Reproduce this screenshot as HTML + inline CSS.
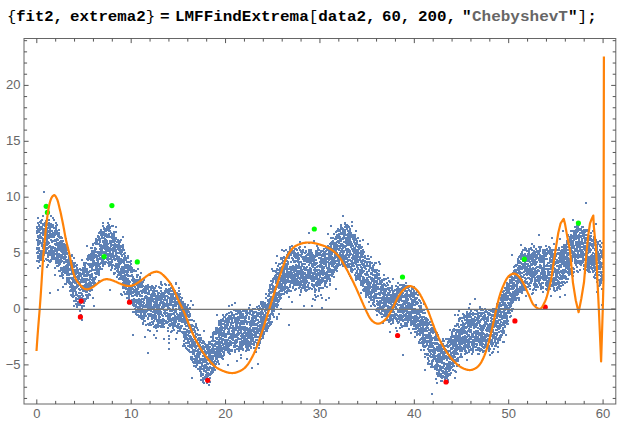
<!DOCTYPE html>
<html><head><meta charset="utf-8"><title>plot</title>
<style>
html,body{margin:0;padding:0;background:#fff;}
body{width:630px;height:426px;overflow:hidden;position:relative;font-family:"Liberation Sans",sans-serif;}
.t{position:absolute;top:9px;font-family:"Liberation Mono",monospace;font-weight:bold;font-size:14px;line-height:16px;color:#000;white-space:pre;transform-origin:0 0;}
.t.s{color:#666;}
.t i{font-style:normal;font-weight:normal;}
svg{position:absolute;left:0;top:0;}
svg text{font-family:"Liberation Sans",sans-serif;font-size:13px;fill:#666;}
</style></head><body>
<span class="t" style="left:7.05px;transform:scaleX(1.1071)"><i>{</i>fit2,</span><span class="t" style="left:69.50px;transform:scaleX(1.1262)">extrema2<i>}</i></span><span class="t" style="left:160.20px;transform:scaleX(1.1429)">=</span><span class="t" style="left:175.40px;transform:scaleX(1.1369)">LMFFindExtrema<i>[</i>data2,</span><span class="t" style="left:382.30px;transform:scaleX(1.1190)">60,</span><span class="t" style="left:417.50px;transform:scaleX(1.1310)">200,</span><span class="t" style="left:462.20px;transform:scaleX(1.1417)">&quot;</span><span class="t s" style="left:471.79px;transform:scaleX(1.1417)">ChebyshevT</span><span class="t" style="left:567.69px;transform:scaleX(1.1417)">&quot;<i>]</i>;</span>
<svg width="630" height="426" viewBox="0 0 630 426">
<path d="M36 240h2M36 227h2M36 228h2M36 253h2M36 249h2M36 231h2M36 261h2M36 228h2M36 227h2M36 233h2M36 248h2M36 248h2M37 252h2M37 245h2M37 236h2M37 241h2M37 218h2M37 229h2M37 232h2M37 223h2M37 268h2M37 253h2M37 237h2M37 258h2M37 261h2M37 256h2M37 243h2M37 240h2M37 236h2M38 244h2M38 242h2M38 256h2M38 262h2M38 250h2M38 232h2M38 250h2M38 248h2M38 261h2M38 225h2M38 258h2M38 249h2M38 226h2M38 242h2M38 257h2M38 238h2M38 231h2M39 260h2M39 242h2M39 237h2M39 228h2M39 251h2M39 235h2M39 260h2M39 254h2M39 238h2M39 237h2M39 228h2M39 241h2M39 222h2M39 236h2M39 266h2M39 235h2M39 230h2M40 253h2M40 243h2M40 256h2M40 258h2M40 260h2M40 221h2M40 254h2M40 233h2M40 251h2M40 222h2M40 237h2M40 255h2M40 221h2M40 223h2M40 227h2M40 237h2M41 252h2M41 251h2M41 229h2M41 238h2M41 258h2M41 246h2M41 220h2M41 233h2M41 244h2M41 243h2M41 254h2M41 255h2M41 227h2M41 246h2M41 256h2M41 244h2M41 228h2M42 258h2M42 248h2M42 257h2M42 251h2M42 258h2M42 231h2M42 246h2M42 216h2M42 224h2M42 251h2M42 241h2M42 235h2M42 246h2M42 239h2M42 231h2M42 225h2M42 255h2M43 224h2M43 245h2M43 230h2M43 229h2M43 254h2M43 245h2M43 242h2M43 261h2M43 232h2M43 230h2M43 240h2M43 234h2M43 252h2M43 252h2M43 246h2M43 255h2M43 192h2M44 253h2M44 238h2M44 246h2M44 247h2M44 224h2M44 248h2M44 223h2M44 245h2M44 243h2M44 223h2M44 230h2M44 239h2M44 245h2M44 226h2M44 249h2M44 223h2M45 259h2M45 213h2M45 243h2M45 221h2M45 252h2M45 227h2M45 237h2M45 231h2M45 237h2M45 225h2M45 248h2M45 251h2M45 252h2M45 248h2M45 250h2M45 231h2M45 229h2M46 267h2M46 238h2M46 240h2M46 241h2M46 238h2M46 248h2M46 224h2M46 239h2M46 235h2M46 235h2M46 249h2M46 260h2M46 245h2M46 233h2M46 228h2M46 230h2M46 253h2M47 225h2M47 231h2M47 228h2M47 244h2M47 225h2M47 256h2M47 235h2M47 265h2M47 248h2M47 255h2M47 253h2M47 242h2M47 257h2M47 236h2M47 254h2M47 232h2M47 260h2M48 247h2M48 220h2M48 237h2M48 231h2M48 251h2M48 238h2M48 254h2M48 238h2M48 261h2M48 228h2M48 223h2M48 227h2M48 247h2M48 243h2M48 251h2M48 253h2M48 236h2M49 229h2M49 247h2M49 225h2M49 228h2M49 255h2M49 231h2M49 231h2M49 253h2M49 293h2M49 237h2M49 231h2M49 262h2M49 235h2M49 233h2M49 226h2M49 246h2M50 251h2M50 235h2M50 226h2M50 227h2M50 251h2M50 260h2M50 235h2M50 252h2M50 240h2M50 224h2M50 248h2M50 251h2M50 216h2M50 235h2M50 261h2M50 250h2M50 255h2M51 237h2M51 231h2M51 247h2M51 249h2M51 235h2M51 257h2M51 251h2M51 241h2M51 242h2M51 259h2M51 254h2M51 236h2M51 248h2M51 259h2M51 234h2M51 250h2M51 253h2M52 256h2M52 259h2M52 225h2M52 251h2M52 247h2M52 236h2M52 237h2M52 256h2M52 241h2M52 218h2M52 247h2M52 233h2M52 255h2M52 234h2M52 234h2M52 227h2M52 234h2M53 248h2M53 256h2M53 241h2M53 237h2M53 254h2M53 252h2M53 237h2M53 233h2M53 228h2M53 257h2M53 255h2M53 235h2M53 237h2M53 235h2M53 220h2M53 220h2M54 233h2M54 235h2M54 248h2M54 240h2M54 258h2M54 233h2M54 231h2M54 250h2M54 250h2M54 241h2M54 244h2M54 259h2M54 234h2M54 268h2M54 275h2M54 240h2M54 233h2M55 249h2M55 230h2M55 228h2M55 251h2M55 254h2M55 229h2M55 229h2M55 260h2M55 241h2M55 233h2M55 226h2M55 263h2M55 259h2M55 223h2M55 260h2M55 261h2M55 245h2M56 249h2M56 239h2M56 261h2M56 231h2M56 258h2M56 234h2M56 266h2M56 243h2M56 262h2M56 252h2M56 256h2M56 234h2M56 250h2M56 260h2M56 225h2M56 234h2M56 232h2M57 250h2M57 254h2M57 259h2M57 262h2M57 266h2M57 250h2M57 263h2M57 263h2M57 236h2M57 248h2M57 263h2M57 240h2M57 290h2M57 246h2M57 255h2M57 245h2M57 243h2M58 246h2M58 254h2M58 263h2M58 237h2M58 263h2M58 262h2M58 265h2M58 230h2M58 235h2M58 257h2M58 233h2M58 261h2M58 250h2M58 248h2M58 235h2M58 271h2M59 271h2M59 248h2M59 271h2M59 260h2M59 249h2M59 242h2M59 245h2M59 238h2M59 238h2M59 243h2M59 237h2M59 244h2M59 242h2M59 256h2M59 264h2M59 245h2M59 276h2M60 262h2M60 251h2M60 260h2M60 237h2M60 268h2M60 251h2M60 270h2M60 258h2M60 255h2M60 242h2M60 257h2M60 241h2M60 242h2M60 247h2M60 242h2M60 256h2M60 260h2M61 250h2M61 244h2M61 257h2M61 252h2M61 268h2M61 250h2M61 243h2M61 276h2M61 246h2M61 275h2M61 238h2M61 255h2M61 261h2M61 248h2M61 251h2M61 251h2M61 273h2M62 252h2M62 257h2M62 241h2M62 278h2M62 258h2M62 253h2M62 253h2M62 271h2M62 287h2M62 269h2M62 269h2M62 275h2M62 272h2M62 257h2M62 247h2M62 248h2M63 259h2M63 244h2M63 254h2M63 252h2M63 250h2M63 252h2M63 269h2M63 262h2M63 257h2M63 262h2M63 251h2M63 263h2M63 262h2M63 249h2M63 257h2M63 267h2M63 246h2M64 267h2M64 248h2M64 250h2M64 259h2M64 254h2M64 250h2M64 269h2M64 247h2M64 256h2M64 257h2M64 257h2M64 284h2M64 256h2M64 267h2M64 273h2M64 272h2M64 270h2M65 257h2M65 239h2M65 248h2M65 268h2M65 267h2M65 260h2M65 246h2M65 245h2M65 273h2M65 272h2M65 262h2M65 266h2M65 252h2M65 284h2M65 250h2M65 272h2M65 270h2M66 280h2M66 270h2M66 250h2M66 250h2M66 265h2M66 254h2M66 273h2M66 278h2M66 265h2M66 275h2M66 270h2M66 253h2M66 254h2M66 282h2M66 260h2M66 254h2M67 253h2M67 282h2M67 263h2M67 278h2M67 264h2M67 274h2M67 261h2M67 279h2M67 268h2M67 270h2M67 260h2M67 282h2M67 248h2M67 272h2M67 282h2M67 281h2M67 266h2M68 269h2M68 260h2M68 260h2M68 283h2M68 283h2M68 280h2M68 257h2M68 278h2M68 258h2M68 263h2M68 265h2M68 262h2M68 256h2M68 274h2M68 278h2M68 275h2M68 270h2M69 284h2M69 278h2M69 263h2M69 269h2M69 283h2M69 282h2M69 282h2M69 256h2M69 291h2M69 283h2M69 287h2M69 274h2M69 265h2M69 260h2M69 284h2M69 282h2M69 264h2M70 290h2M70 267h2M70 278h2M70 283h2M70 262h2M70 291h2M70 265h2M70 266h2M70 269h2M70 295h2M70 264h2M70 270h2M70 265h2M70 286h2M70 256h2M70 262h2M70 291h2M71 284h2M71 288h2M71 278h2M71 265h2M71 255h2M71 265h2M71 272h2M71 261h2M71 274h2M71 256h2M71 274h2M71 284h2M71 279h2M71 296h2M71 274h2M71 267h2M72 270h2M72 263h2M72 267h2M72 286h2M72 294h2M72 292h2M72 291h2M72 286h2M72 280h2M72 264h2M72 290h2M72 265h2M72 271h2M72 282h2M72 279h2M72 297h2M72 265h2M73 289h2M73 290h2M73 267h2M73 271h2M73 291h2M73 289h2M73 258h2M73 288h2M73 272h2M73 296h2M73 265h2M73 291h2M73 280h2M73 306h2M73 277h2M73 265h2M73 301h2M74 290h2M74 271h2M74 283h2M74 287h2M74 275h2M74 282h2M74 270h2M74 291h2M74 273h2M74 275h2M74 263h2M74 283h2M74 272h2M74 280h2M74 282h2M74 277h2M74 266h2M75 274h2M75 299h2M75 273h2M75 298h2M75 288h2M75 266h2M75 282h2M75 293h2M75 294h2M75 298h2M75 295h2M75 292h2M75 295h2M75 304h2M75 283h2M75 301h2M76 271h2M76 272h2M76 295h2M76 265h2M76 282h2M76 299h2M76 269h2M76 268h2M76 285h2M76 273h2M76 307h2M76 287h2M76 277h2M76 271h2M76 305h2M76 285h2M76 285h2M77 276h2M77 305h2M77 299h2M77 279h2M77 279h2M77 286h2M77 271h2M77 270h2M77 303h2M77 286h2M77 302h2M77 302h2M77 281h2M77 273h2M77 285h2M77 281h2M77 296h2M78 279h2M78 275h2M78 283h2M78 278h2M78 283h2M78 297h2M78 285h2M78 289h2M78 278h2M78 299h2M78 273h2M78 299h2M78 284h2M78 276h2M78 293h2M78 298h2M78 289h2M79 285h2M79 282h2M79 284h2M79 301h2M79 273h2M79 311h2M79 305h2M79 296h2M79 296h2M79 274h2M79 290h2M79 305h2M79 297h2M79 299h2M79 290h2M79 269h2M79 304h2M80 300h2M80 282h2M80 287h2M80 280h2M80 315h2M80 300h2M80 293h2M80 270h2M80 276h2M80 302h2M80 281h2M80 298h2M80 275h2M80 303h2M80 274h2M80 281h2M81 286h2M81 282h2M81 278h2M81 299h2M81 299h2M81 295h2M81 307h2M81 295h2M81 320h2M81 289h2M81 287h2M81 260h2M81 298h2M81 306h2M81 294h2M81 308h2M81 301h2M82 289h2M82 274h2M82 289h2M82 272h2M82 269h2M82 291h2M82 279h2M82 296h2M82 301h2M82 286h2M82 281h2M82 271h2M82 300h2M82 272h2M82 288h2M82 299h2M82 268h2M83 274h2M83 299h2M83 270h2M83 303h2M83 301h2M83 289h2M83 265h2M83 306h2M83 263h2M83 280h2M83 279h2M83 280h2M83 287h2M83 282h2M83 276h2M83 276h2M83 265h2M84 301h2M84 285h2M84 287h2M84 268h2M84 266h2M84 279h2M84 291h2M84 281h2M84 265h2M84 267h2M84 286h2M84 271h2M84 286h2M84 286h2M84 272h2M84 279h2M85 281h2M85 285h2M85 284h2M85 292h2M85 299h2M85 290h2M85 276h2M85 272h2M85 263h2M85 291h2M85 295h2M85 287h2M85 284h2M85 270h2M85 280h2M85 282h2M85 275h2M86 292h2M86 297h2M86 270h2M86 246h2M86 285h2M86 276h2M86 298h2M86 285h2M86 279h2M86 291h2M86 288h2M86 274h2M86 273h2M86 279h2M86 269h2M86 295h2M86 259h2M87 274h2M87 287h2M87 288h2M87 258h2M87 286h2M87 272h2M87 260h2M87 256h2M87 298h2M87 274h2M87 275h2M87 264h2M87 280h2M87 284h2M87 296h2M87 296h2M87 273h2M88 295h2M88 280h2M88 285h2M88 288h2M88 294h2M88 257h2M88 275h2M88 284h2M88 265h2M88 294h2M88 284h2M88 255h2M88 255h2M88 272h2M88 290h2M88 283h2M88 294h2M89 286h2M89 289h2M89 282h2M89 264h2M89 291h2M89 285h2M89 259h2M89 277h2M89 275h2M89 286h2M89 258h2M89 265h2M89 267h2M89 271h2M89 295h2M89 279h2M90 271h2M90 254h2M90 258h2M90 264h2M90 267h2M90 289h2M90 257h2M90 284h2M90 277h2M90 248h2M90 260h2M90 258h2M90 275h2M90 286h2M90 287h2M90 256h2M90 248h2M91 274h2M91 254h2M91 267h2M91 277h2M91 265h2M91 290h2M91 269h2M91 280h2M91 290h2M91 265h2M91 257h2M91 251h2M91 276h2M91 275h2M91 248h2M91 253h2M91 283h2M92 286h2M92 245h2M92 264h2M92 282h2M92 279h2M92 261h2M92 270h2M92 244h2M92 298h2M92 278h2M92 278h2M92 266h2M92 251h2M92 256h2M92 253h2M92 259h2M92 262h2M93 253h2M93 258h2M93 255h2M93 279h2M93 263h2M93 306h2M93 257h2M93 281h2M93 265h2M93 255h2M93 284h2M93 270h2M93 283h2M93 257h2M93 262h2M93 261h2M94 248h2M94 255h2M94 273h2M94 243h2M94 279h2M94 264h2M94 283h2M94 249h2M94 264h2M94 250h2M94 270h2M94 252h2M94 270h2M94 257h2M94 243h2M94 278h2M94 248h2M95 255h2M95 263h2M95 268h2M95 277h2M95 267h2M95 256h2M95 274h2M95 252h2M95 239h2M95 240h2M95 244h2M95 249h2M95 270h2M95 242h2M95 265h2M95 244h2M95 244h2M96 271h2M96 257h2M96 269h2M96 257h2M96 267h2M96 274h2M96 263h2M96 242h2M96 242h2M96 272h2M96 256h2M96 264h2M96 266h2M96 271h2M96 252h2M96 259h2M96 260h2M97 266h2M97 253h2M97 262h2M97 259h2M97 259h2M97 236h2M97 263h2M97 244h2M97 266h2M97 240h2M97 260h2M97 253h2M97 237h2M97 253h2M97 270h2M97 256h2M98 233h2M98 273h2M98 265h2M98 237h2M98 275h2M98 269h2M98 265h2M98 271h2M98 255h2M98 281h2M98 255h2M98 265h2M98 239h2M98 244h2M98 256h2M98 269h2M98 252h2M99 242h2M99 252h2M99 239h2M99 254h2M99 249h2M99 267h2M99 246h2M99 232h2M99 240h2M99 264h2M99 233h2M99 240h2M99 258h2M99 259h2M99 239h2M99 268h2M99 241h2M100 258h2M100 248h2M100 231h2M100 255h2M100 255h2M100 253h2M100 235h2M100 258h2M100 246h2M100 251h2M100 230h2M100 232h2M100 269h2M100 230h2M100 245h2M100 263h2M100 249h2M101 262h2M101 249h2M101 260h2M101 250h2M101 253h2M101 237h2M101 238h2M101 233h2M101 256h2M101 269h2M101 258h2M101 257h2M101 232h2M101 262h2M101 232h2M101 246h2M101 257h2M102 241h2M102 257h2M102 223h2M102 264h2M102 263h2M102 235h2M102 252h2M102 266h2M102 247h2M102 256h2M102 241h2M102 242h2M102 232h2M102 261h2M102 248h2M102 226h2M103 252h2M103 235h2M103 259h2M103 245h2M103 242h2M103 233h2M103 234h2M103 229h2M103 264h2M103 238h2M103 257h2M103 253h2M103 257h2M103 242h2M103 243h2M103 228h2M103 262h2M104 257h2M104 257h2M104 236h2M104 245h2M104 247h2M104 235h2M104 239h2M104 254h2M104 264h2M104 247h2M104 231h2M104 240h2M104 263h2M104 244h2M104 249h2M104 246h2M104 242h2M105 231h2M105 249h2M105 253h2M105 240h2M105 262h2M105 240h2M105 251h2M105 234h2M105 246h2M105 230h2M105 244h2M105 258h2M105 230h2M105 248h2M105 229h2M105 241h2M105 244h2M106 259h2M106 235h2M106 258h2M106 237h2M106 230h2M106 254h2M106 249h2M106 227h2M106 243h2M106 254h2M106 242h2M106 254h2M106 246h2M106 241h2M106 255h2M106 236h2M107 256h2M107 244h2M107 248h2M107 226h2M107 263h2M107 251h2M107 229h2M107 247h2M107 255h2M107 236h2M107 249h2M107 223h2M107 258h2M107 250h2M107 260h2M107 237h2M107 251h2M108 228h2M108 227h2M108 231h2M108 254h2M108 262h2M108 250h2M108 225h2M108 236h2M108 264h2M108 266h2M108 230h2M108 227h2M108 237h2M108 228h2M108 234h2M108 255h2M108 259h2M109 237h2M109 259h2M109 243h2M109 219h2M109 241h2M109 242h2M109 227h2M109 259h2M109 227h2M109 228h2M109 252h2M109 248h2M109 256h2M109 231h2M109 290h2M109 265h2M109 228h2M110 243h2M110 237h2M110 254h2M110 265h2M110 262h2M110 246h2M110 265h2M110 245h2M110 233h2M110 241h2M110 246h2M110 270h2M110 264h2M110 244h2M110 258h2M110 250h2M110 265h2M111 234h2M111 257h2M111 250h2M111 245h2M111 235h2M111 226h2M111 236h2M111 255h2M111 268h2M111 242h2M111 266h2M111 262h2M111 238h2M111 260h2M111 249h2M111 242h2M112 245h2M112 226h2M112 240h2M112 253h2M112 245h2M112 248h2M112 254h2M112 255h2M112 249h2M112 257h2M112 256h2M112 265h2M112 251h2M112 257h2M112 236h2M112 234h2M112 257h2M113 242h2M113 236h2M113 259h2M113 273h2M113 249h2M113 246h2M113 234h2M113 274h2M113 232h2M113 245h2M113 238h2M113 250h2M113 233h2M113 256h2M113 245h2M113 257h2M113 250h2M114 241h2M114 266h2M114 246h2M114 240h2M114 273h2M114 250h2M114 260h2M114 249h2M114 269h2M114 251h2M114 248h2M114 249h2M114 256h2M114 260h2M114 244h2M114 256h2M114 246h2M115 259h2M115 267h2M115 253h2M115 251h2M115 238h2M115 239h2M115 227h2M115 238h2M115 267h2M115 265h2M115 264h2M115 232h2M115 254h2M115 251h2M115 250h2M115 247h2M116 246h2M116 242h2M116 242h2M116 256h2M116 253h2M116 256h2M116 258h2M116 271h2M116 253h2M116 268h2M116 259h2M116 271h2M116 245h2M116 242h2M116 265h2M116 277h2M116 253h2M117 275h2M117 242h2M117 271h2M117 264h2M117 260h2M117 269h2M117 265h2M117 266h2M117 247h2M117 271h2M117 265h2M117 240h2M117 272h2M117 258h2M117 261h2M117 268h2M117 249h2M118 250h2M118 273h2M118 267h2M118 245h2M118 244h2M118 258h2M118 243h2M118 241h2M118 266h2M118 253h2M118 274h2M118 263h2M118 257h2M118 243h2M118 265h2M118 259h2M118 279h2M119 251h2M119 262h2M119 242h2M119 278h2M119 274h2M119 253h2M119 261h2M119 275h2M119 263h2M119 249h2M119 274h2M119 278h2M119 264h2M119 272h2M119 247h2M119 246h2M119 246h2M120 240h2M120 259h2M120 272h2M120 250h2M120 253h2M120 294h2M120 254h2M120 251h2M120 274h2M120 276h2M120 263h2M120 269h2M120 272h2M120 279h2M120 261h2M120 271h2M121 267h2M121 252h2M121 260h2M121 262h2M121 247h2M121 278h2M121 256h2M121 284h2M121 271h2M121 246h2M121 295h2M121 255h2M121 250h2M121 270h2M121 256h2M121 271h2M121 269h2M122 267h2M122 278h2M122 270h2M122 276h2M122 248h2M122 273h2M122 245h2M122 247h2M122 280h2M122 247h2M122 287h2M122 237h2M122 272h2M122 268h2M122 288h2M122 283h2M122 273h2M123 273h2M123 254h2M123 268h2M123 250h2M123 260h2M123 279h2M123 270h2M123 282h2M123 286h2M123 286h2M123 258h2M123 285h2M123 288h2M123 263h2M123 269h2M123 292h2M123 262h2M124 280h2M124 258h2M124 271h2M124 277h2M124 271h2M124 268h2M124 253h2M124 265h2M124 294h2M124 275h2M124 287h2M124 287h2M124 282h2M124 284h2M124 256h2M124 266h2M125 260h2M125 265h2M125 280h2M125 279h2M125 278h2M125 283h2M125 275h2M125 265h2M125 287h2M125 284h2M125 272h2M125 271h2M125 271h2M125 265h2M125 289h2M125 288h2M125 278h2M126 284h2M126 265h2M126 258h2M126 265h2M126 292h2M126 286h2M126 268h2M126 279h2M126 274h2M126 281h2M126 266h2M126 274h2M126 262h2M126 281h2M126 289h2M126 298h2M126 294h2M127 265h2M127 276h2M127 256h2M127 294h2M127 286h2M127 267h2M127 275h2M127 303h2M127 279h2M127 270h2M127 258h2M127 282h2M127 291h2M127 262h2M127 283h2M127 272h2M127 279h2M128 297h2M128 289h2M128 297h2M128 294h2M128 292h2M128 288h2M128 284h2M128 290h2M128 268h2M128 299h2M128 295h2M128 281h2M128 299h2M128 286h2M128 290h2M128 276h2M129 294h2M129 269h2M129 266h2M129 291h2M129 302h2M129 268h2M129 291h2M129 276h2M129 269h2M129 270h2M129 268h2M129 282h2M129 266h2M129 287h2M129 288h2M129 262h2M129 288h2M130 290h2M130 271h2M130 303h2M130 293h2M130 290h2M130 287h2M130 264h2M130 267h2M130 261h2M130 271h2M130 276h2M130 293h2M130 288h2M130 276h2M130 272h2M130 294h2M130 303h2M131 292h2M131 296h2M131 275h2M131 302h2M131 300h2M131 270h2M131 268h2M131 280h2M131 287h2M131 300h2M131 270h2M131 272h2M131 289h2M131 300h2M131 300h2M131 293h2M131 293h2M132 305h2M132 293h2M132 284h2M132 296h2M132 293h2M132 292h2M132 335h2M132 284h2M132 286h2M132 303h2M132 312h2M132 286h2M132 289h2M132 281h2M132 279h2M132 280h2M132 277h2M133 282h2M133 279h2M133 303h2M133 283h2M133 301h2M133 299h2M133 270h2M133 291h2M133 271h2M133 285h2M133 281h2M133 281h2M133 306h2M133 290h2M133 281h2M133 312h2M134 302h2M134 300h2M134 292h2M134 301h2M134 292h2M134 295h2M134 284h2M134 292h2M134 281h2M134 305h2M134 287h2M134 283h2M134 282h2M134 309h2M134 280h2M134 290h2M134 302h2M135 289h2M135 289h2M135 292h2M135 305h2M135 301h2M135 301h2M135 282h2M135 307h2M135 312h2M135 295h2M135 306h2M135 314h2M135 271h2M135 300h2M135 293h2M135 301h2M135 311h2M136 277h2M136 275h2M136 303h2M136 296h2M136 302h2M136 303h2M136 285h2M136 282h2M136 281h2M136 291h2M136 315h2M136 285h2M136 292h2M136 290h2M136 300h2M136 294h2M136 280h2M137 315h2M137 300h2M137 307h2M137 275h2M137 307h2M137 312h2M137 269h2M137 292h2M137 309h2M137 286h2M137 307h2M137 289h2M137 307h2M137 283h2M137 310h2M137 287h2M138 280h2M138 311h2M138 283h2M138 292h2M138 300h2M138 300h2M138 285h2M138 301h2M138 299h2M138 294h2M138 302h2M138 303h2M138 317h2M138 308h2M138 310h2M138 304h2M138 302h2M139 316h2M139 305h2M139 295h2M139 287h2M139 307h2M139 302h2M139 277h2M139 296h2M139 282h2M139 285h2M139 302h2M139 312h2M139 300h2M139 312h2M139 279h2M139 317h2M139 311h2M140 296h2M140 296h2M140 310h2M140 287h2M140 303h2M140 296h2M140 314h2M140 284h2M140 273h2M140 306h2M140 291h2M140 285h2M140 281h2M140 284h2M140 309h2M140 318h2M140 301h2M141 316h2M141 287h2M141 287h2M141 305h2M141 293h2M141 319h2M141 302h2M141 319h2M141 312h2M141 296h2M141 311h2M141 286h2M141 291h2M141 309h2M141 284h2M141 283h2M141 299h2M142 306h2M142 290h2M142 282h2M142 307h2M142 319h2M142 286h2M142 292h2M142 323h2M142 302h2M142 305h2M142 286h2M142 310h2M142 316h2M142 324h2M142 318h2M142 282h2M143 314h2M143 306h2M143 280h2M143 321h2M143 316h2M143 291h2M143 321h2M143 289h2M143 291h2M143 318h2M143 299h2M143 303h2M143 300h2M143 312h2M143 306h2M143 317h2M143 310h2M144 337h2M144 289h2M144 288h2M144 311h2M144 297h2M144 307h2M144 311h2M144 306h2M144 287h2M144 307h2M144 306h2M144 289h2M144 314h2M144 288h2M144 321h2M144 293h2M144 297h2M145 291h2M145 316h2M145 296h2M145 292h2M145 325h2M145 298h2M145 312h2M145 305h2M145 287h2M145 296h2M145 291h2M145 325h2M145 286h2M145 316h2M145 312h2M145 290h2M145 291h2M146 288h2M146 311h2M146 305h2M146 286h2M146 310h2M146 293h2M146 297h2M146 310h2M146 289h2M146 310h2M146 302h2M146 305h2M146 301h2M146 304h2M146 299h2M146 307h2M147 319h2M147 287h2M147 353h2M147 324h2M147 285h2M147 303h2M147 318h2M147 330h2M147 309h2M147 300h2M147 294h2M147 305h2M147 324h2M147 307h2M147 289h2M147 287h2M147 314h2M148 292h2M148 291h2M148 309h2M148 308h2M148 310h2M148 325h2M148 302h2M148 316h2M148 316h2M148 294h2M148 307h2M148 303h2M148 315h2M148 304h2M148 298h2M148 307h2M148 292h2M149 323h2M149 307h2M149 323h2M149 316h2M149 306h2M149 308h2M149 325h2M149 287h2M149 302h2M149 314h2M149 275h2M149 301h2M149 299h2M149 324h2M149 323h2M149 302h2M149 331h2M150 289h2M150 303h2M150 301h2M150 311h2M150 304h2M150 301h2M150 290h2M150 297h2M150 295h2M150 287h2M150 325h2M150 297h2M150 307h2M150 297h2M150 314h2M150 306h2M150 295h2M151 319h2M151 316h2M151 308h2M151 288h2M151 309h2M151 294h2M151 317h2M151 317h2M151 301h2M151 300h2M151 294h2M151 286h2M151 322h2M151 295h2M151 298h2M151 308h2M152 295h2M152 291h2M152 323h2M152 287h2M152 317h2M152 317h2M152 296h2M152 312h2M152 300h2M152 307h2M152 324h2M152 292h2M152 296h2M152 322h2M152 315h2M152 295h2M152 295h2M153 293h2M153 310h2M153 311h2M153 309h2M153 317h2M153 307h2M153 316h2M153 321h2M153 318h2M153 327h2M153 305h2M153 299h2M153 302h2M153 289h2M153 293h2M153 335h2M153 291h2M154 306h2M154 296h2M154 319h2M154 307h2M154 316h2M154 305h2M154 304h2M154 296h2M154 312h2M154 294h2M154 302h2M154 318h2M154 314h2M154 311h2M154 288h2M154 326h2M154 315h2M155 303h2M155 298h2M155 291h2M155 311h2M155 318h2M155 306h2M155 325h2M155 328h2M155 316h2M155 312h2M155 286h2M155 296h2M155 338h2M155 307h2M155 299h2M155 301h2M156 311h2M156 325h2M156 320h2M156 296h2M156 302h2M156 297h2M156 327h2M156 331h2M156 313h2M156 291h2M156 301h2M156 299h2M156 308h2M156 301h2M156 296h2M156 321h2M156 304h2M157 307h2M157 326h2M157 322h2M157 308h2M157 313h2M157 298h2M157 294h2M157 327h2M157 300h2M157 314h2M157 306h2M157 321h2M157 321h2M157 313h2M157 293h2M157 324h2M157 293h2M158 287h2M158 306h2M158 311h2M158 319h2M158 308h2M158 316h2M158 293h2M158 326h2M158 293h2M158 305h2M158 326h2M158 323h2M158 306h2M158 318h2M158 315h2M158 296h2M158 314h2M159 313h2M159 320h2M159 288h2M159 326h2M159 322h2M159 298h2M159 309h2M159 300h2M159 303h2M159 300h2M159 317h2M159 296h2M159 305h2M159 322h2M159 311h2M159 323h2M160 322h2M160 298h2M160 298h2M160 312h2M160 282h2M160 314h2M160 309h2M160 303h2M160 288h2M160 327h2M160 291h2M160 284h2M160 314h2M160 301h2M160 294h2M160 301h2M160 314h2M161 303h2M161 293h2M161 320h2M161 307h2M161 325h2M161 297h2M161 315h2M161 322h2M161 295h2M161 299h2M161 323h2M161 308h2M161 299h2M161 303h2M161 307h2M161 285h2M161 303h2M162 304h2M162 327h2M162 322h2M162 308h2M162 296h2M162 293h2M162 306h2M162 306h2M162 307h2M162 302h2M162 316h2M162 309h2M162 306h2M162 297h2M162 319h2M162 326h2M162 323h2M163 321h2M163 294h2M163 297h2M163 297h2M163 310h2M163 324h2M163 305h2M163 295h2M163 307h2M163 305h2M163 339h2M163 327h2M163 303h2M163 300h2M163 313h2M163 320h2M163 305h2M164 312h2M164 306h2M164 313h2M164 297h2M164 314h2M164 305h2M164 291h2M164 299h2M164 300h2M164 312h2M164 291h2M164 313h2M164 284h2M164 293h2M164 300h2M164 298h2M165 310h2M165 296h2M165 289h2M165 285h2M165 300h2M165 321h2M165 316h2M165 304h2M165 296h2M165 323h2M165 290h2M165 316h2M165 289h2M165 296h2M165 310h2M165 313h2M165 300h2M166 323h2M166 300h2M166 296h2M166 290h2M166 316h2M166 291h2M166 313h2M166 292h2M166 292h2M166 323h2M166 290h2M166 300h2M166 301h2M166 292h2M166 303h2M166 306h2M166 310h2M167 293h2M167 292h2M167 322h2M167 298h2M167 318h2M167 319h2M167 319h2M167 304h2M167 314h2M167 318h2M167 291h2M167 316h2M167 297h2M167 331h2M167 308h2M167 306h2M167 328h2M168 339h2M168 289h2M168 349h2M168 291h2M168 321h2M168 298h2M168 343h2M168 319h2M168 308h2M168 336h2M168 294h2M168 315h2M168 325h2M168 292h2M168 285h2M168 304h2M169 317h2M169 303h2M169 299h2M169 301h2M169 309h2M169 311h2M169 314h2M169 324h2M169 314h2M169 289h2M169 326h2M169 301h2M169 294h2M169 311h2M169 302h2M169 304h2M169 305h2M170 298h2M170 295h2M170 311h2M170 291h2M170 325h2M170 305h2M170 305h2M170 332h2M170 288h2M170 303h2M170 297h2M170 315h2M170 284h2M170 321h2M170 304h2M170 325h2M170 319h2M171 301h2M171 320h2M171 311h2M171 325h2M171 298h2M171 323h2M171 314h2M171 294h2M171 299h2M171 295h2M171 288h2M171 331h2M171 302h2M171 301h2M171 300h2M171 298h2M171 325h2M172 327h2M172 297h2M172 305h2M172 294h2M172 327h2M172 305h2M172 324h2M172 296h2M172 314h2M172 296h2M172 325h2M172 308h2M172 328h2M172 290h2M172 307h2M172 318h2M172 291h2M173 302h2M173 313h2M173 318h2M173 314h2M173 294h2M173 318h2M173 292h2M173 321h2M173 302h2M173 319h2M173 310h2M173 299h2M173 330h2M173 323h2M173 325h2M173 298h2M174 322h2M174 312h2M174 317h2M174 316h2M174 291h2M174 306h2M174 323h2M174 300h2M174 303h2M174 318h2M174 324h2M174 312h2M174 322h2M174 326h2M174 292h2M174 305h2M174 310h2M175 321h2M175 298h2M175 309h2M175 311h2M175 283h2M175 293h2M175 296h2M175 298h2M175 310h2M175 320h2M175 306h2M175 320h2M175 302h2M175 322h2M175 339h2M175 284h2M175 312h2M176 303h2M176 299h2M176 299h2M176 302h2M176 293h2M176 304h2M176 293h2M176 294h2M176 327h2M176 317h2M176 314h2M176 318h2M176 326h2M176 296h2M176 333h2M176 318h2M176 296h2M177 319h2M177 317h2M177 324h2M177 298h2M177 316h2M177 325h2M177 325h2M177 294h2M177 302h2M177 328h2M177 302h2M177 318h2M177 303h2M177 318h2M177 326h2M177 331h2M178 305h2M178 298h2M178 294h2M178 304h2M178 306h2M178 324h2M178 317h2M178 299h2M178 291h2M178 316h2M178 302h2M178 296h2M178 288h2M178 321h2M178 308h2M178 315h2M178 315h2M179 314h2M179 327h2M179 331h2M179 316h2M179 309h2M179 297h2M179 328h2M179 310h2M179 313h2M179 301h2M179 317h2M179 330h2M179 309h2M179 294h2M179 302h2M179 303h2M179 319h2M180 327h2M180 300h2M180 303h2M180 302h2M180 319h2M180 321h2M180 321h2M180 302h2M180 307h2M180 321h2M180 304h2M180 317h2M180 317h2M180 313h2M180 306h2M180 326h2M180 328h2M181 322h2M181 314h2M181 332h2M181 303h2M181 326h2M181 298h2M181 310h2M181 332h2M181 319h2M181 316h2M181 310h2M181 303h2M181 305h2M181 332h2M181 306h2M181 314h2M181 311h2M182 346h2M182 319h2M182 312h2M182 304h2M182 305h2M182 333h2M182 309h2M182 316h2M182 314h2M182 305h2M182 320h2M182 302h2M182 319h2M182 305h2M182 322h2M182 314h2M183 337h2M183 309h2M183 306h2M183 336h2M183 310h2M183 316h2M183 344h2M183 307h2M183 322h2M183 336h2M183 341h2M183 313h2M183 332h2M183 322h2M183 334h2M183 317h2M183 329h2M184 312h2M184 321h2M184 313h2M184 338h2M184 346h2M184 305h2M184 304h2M184 316h2M184 314h2M184 317h2M184 316h2M184 329h2M184 324h2M184 323h2M184 339h2M184 324h2M184 319h2M185 343h2M185 326h2M185 333h2M185 321h2M185 319h2M185 335h2M185 320h2M185 320h2M185 337h2M185 332h2M185 316h2M185 309h2M185 339h2M185 348h2M185 307h2M185 310h2M185 323h2M186 314h2M186 326h2M186 307h2M186 338h2M186 330h2M186 343h2M186 339h2M186 323h2M186 339h2M186 326h2M186 312h2M186 330h2M186 310h2M186 321h2M186 315h2M186 349h2M187 340h2M187 316h2M187 311h2M187 332h2M187 324h2M187 343h2M187 315h2M187 309h2M187 325h2M187 335h2M187 305h2M187 340h2M187 346h2M187 324h2M187 326h2M187 342h2M187 350h2M188 346h2M188 320h2M188 342h2M188 350h2M188 343h2M188 332h2M188 328h2M188 316h2M188 317h2M188 312h2M188 317h2M188 336h2M188 351h2M188 316h2M188 331h2M188 333h2M188 339h2M189 326h2M189 345h2M189 336h2M189 346h2M189 314h2M189 345h2M189 331h2M189 338h2M189 347h2M189 325h2M189 308h2M189 328h2M189 316h2M189 332h2M189 352h2M189 331h2M189 339h2M190 337h2M190 338h2M190 332h2M190 359h2M190 326h2M190 320h2M190 327h2M190 357h2M190 301h2M190 352h2M190 327h2M190 341h2M190 357h2M190 346h2M190 331h2M190 338h2M191 339h2M191 342h2M191 348h2M191 357h2M191 360h2M191 332h2M191 344h2M191 345h2M191 320h2M191 332h2M191 329h2M191 329h2M191 378h2M191 329h2M191 343h2M191 325h2M191 358h2M192 350h2M192 351h2M192 362h2M192 330h2M192 343h2M192 342h2M192 340h2M192 354h2M192 305h2M192 346h2M192 353h2M192 354h2M192 340h2M192 346h2M192 326h2M192 333h2M192 354h2M193 359h2M193 337h2M193 329h2M193 343h2M193 336h2M193 336h2M193 366h2M193 363h2M193 321h2M193 351h2M193 330h2M193 345h2M193 354h2M193 363h2M193 352h2M193 350h2M193 345h2M194 351h2M194 337h2M194 346h2M194 361h2M194 339h2M194 327h2M194 363h2M194 332h2M194 342h2M194 336h2M194 347h2M194 356h2M194 344h2M194 331h2M194 350h2M194 362h2M194 362h2M195 327h2M195 359h2M195 356h2M195 351h2M195 334h2M195 348h2M195 362h2M195 357h2M195 356h2M195 367h2M195 325h2M195 334h2M195 360h2M195 366h2M195 324h2M195 337h2M196 328h2M196 365h2M196 351h2M196 346h2M196 334h2M196 334h2M196 334h2M196 354h2M196 359h2M196 365h2M196 351h2M196 363h2M196 361h2M196 364h2M196 358h2M196 354h2M196 341h2M197 369h2M197 369h2M197 346h2M197 356h2M197 344h2M197 335h2M197 345h2M197 350h2M197 339h2M197 330h2M197 362h2M197 345h2M197 357h2M197 353h2M197 361h2M197 357h2M197 344h2M198 345h2M198 355h2M198 363h2M198 343h2M198 353h2M198 352h2M198 340h2M198 345h2M198 338h2M198 345h2M198 338h2M198 356h2M198 345h2M198 339h2M198 369h2M198 357h2M198 349h2M199 371h2M199 342h2M199 346h2M199 335h2M199 360h2M199 354h2M199 339h2M199 360h2M199 345h2M199 359h2M199 361h2M199 361h2M199 367h2M199 360h2M199 371h2M199 340h2M200 338h2M200 374h2M200 372h2M200 380h2M200 340h2M200 368h2M200 350h2M200 368h2M200 367h2M200 363h2M200 347h2M200 376h2M200 339h2M200 349h2M200 369h2M200 372h2M200 352h2M201 348h2M201 365h2M201 364h2M201 359h2M201 348h2M201 363h2M201 343h2M201 351h2M201 360h2M201 365h2M201 352h2M201 359h2M201 352h2M201 349h2M201 369h2M201 375h2M201 364h2M202 342h2M202 341h2M202 361h2M202 374h2M202 346h2M202 353h2M202 366h2M202 346h2M202 359h2M202 380h2M202 352h2M202 375h2M202 353h2M202 352h2M202 382h2M202 378h2M202 356h2M203 370h2M203 331h2M203 349h2M203 347h2M203 342h2M203 362h2M203 379h2M203 370h2M203 360h2M203 343h2M203 367h2M203 362h2M203 369h2M203 367h2M203 368h2M203 371h2M203 383h2M204 379h2M204 359h2M204 366h2M204 356h2M204 356h2M204 344h2M204 365h2M204 351h2M204 365h2M204 352h2M204 347h2M204 367h2M204 366h2M204 358h2M204 377h2M204 361h2M205 377h2M205 372h2M205 360h2M205 347h2M205 346h2M205 375h2M205 377h2M205 368h2M205 346h2M205 366h2M205 352h2M205 371h2M205 362h2M205 365h2M205 362h2M205 354h2M205 345h2M206 346h2M206 347h2M206 349h2M206 380h2M206 363h2M206 352h2M206 369h2M206 363h2M206 378h2M206 376h2M206 370h2M206 383h2M206 363h2M206 370h2M206 347h2M206 373h2M206 367h2M207 351h2M207 364h2M207 347h2M207 353h2M207 360h2M207 381h2M207 348h2M207 360h2M207 375h2M207 373h2M207 357h2M207 358h2M207 379h2M207 369h2M207 376h2M207 345h2M207 381h2M208 370h2M208 375h2M208 355h2M208 349h2M208 379h2M208 344h2M208 354h2M208 368h2M208 342h2M208 370h2M208 347h2M208 385h2M208 359h2M208 359h2M208 344h2M208 351h2M209 352h2M209 378h2M209 363h2M209 357h2M209 374h2M209 355h2M209 362h2M209 367h2M209 347h2M209 375h2M209 382h2M209 355h2M209 358h2M209 342h2M209 358h2M209 374h2M209 357h2M210 374h2M210 372h2M210 362h2M210 344h2M210 368h2M210 360h2M210 337h2M210 360h2M210 357h2M210 350h2M210 351h2M210 353h2M210 353h2M210 358h2M210 363h2M210 364h2M210 373h2M211 361h2M211 349h2M211 353h2M211 371h2M211 345h2M211 371h2M211 341h2M211 350h2M211 351h2M211 356h2M211 344h2M211 370h2M211 373h2M211 357h2M211 368h2M211 363h2M211 351h2M212 372h2M212 338h2M212 348h2M212 370h2M212 345h2M212 352h2M212 340h2M212 346h2M212 333h2M212 370h2M212 335h2M212 356h2M212 365h2M212 359h2M212 357h2M212 336h2M212 353h2M213 364h2M213 346h2M213 351h2M213 334h2M213 367h2M213 334h2M213 332h2M213 369h2M213 356h2M213 362h2M213 349h2M213 368h2M213 332h2M213 364h2M213 341h2M213 345h2M214 356h2M214 364h2M214 356h2M214 370h2M214 361h2M214 356h2M214 346h2M214 354h2M214 361h2M214 346h2M214 345h2M214 341h2M214 349h2M214 353h2M214 365h2M214 344h2M214 344h2M215 349h2M215 334h2M215 352h2M215 334h2M215 338h2M215 333h2M215 331h2M215 359h2M215 329h2M215 354h2M215 338h2M215 328h2M215 338h2M215 344h2M215 364h2M215 342h2M215 357h2M216 351h2M216 354h2M216 330h2M216 342h2M216 338h2M216 362h2M216 356h2M216 315h2M216 359h2M216 328h2M216 347h2M216 347h2M216 343h2M216 348h2M216 347h2M216 353h2M216 339h2M217 352h2M217 361h2M217 344h2M217 357h2M217 347h2M217 342h2M217 329h2M217 362h2M217 349h2M217 333h2M217 351h2M217 333h2M217 330h2M217 361h2M217 347h2M217 331h2M218 322h2M218 337h2M218 325h2M218 340h2M218 348h2M218 332h2M218 350h2M218 364h2M218 356h2M218 334h2M218 324h2M218 335h2M218 347h2M218 321h2M218 345h2M218 354h2M218 340h2M219 349h2M219 357h2M219 335h2M219 331h2M219 321h2M219 356h2M219 329h2M219 328h2M219 348h2M219 342h2M219 339h2M219 347h2M219 353h2M219 332h2M219 352h2M219 345h2M219 343h2M220 320h2M220 338h2M220 342h2M220 322h2M220 346h2M220 325h2M220 347h2M220 330h2M220 331h2M220 327h2M220 348h2M220 350h2M220 331h2M220 324h2M220 334h2M220 354h2M220 351h2M221 324h2M221 327h2M221 358h2M221 356h2M221 327h2M221 340h2M221 330h2M221 328h2M221 342h2M221 328h2M221 339h2M221 333h2M221 343h2M221 356h2M221 336h2M221 350h2M221 348h2M222 324h2M222 344h2M222 356h2M222 328h2M222 335h2M222 359h2M222 339h2M222 336h2M222 345h2M222 315h2M222 328h2M222 335h2M222 321h2M222 352h2M222 344h2M222 319h2M223 334h2M223 349h2M223 334h2M223 347h2M223 331h2M223 354h2M223 355h2M223 340h2M223 355h2M223 355h2M223 332h2M223 335h2M223 352h2M223 317h2M223 344h2M223 324h2M223 331h2M224 329h2M224 340h2M224 327h2M224 343h2M224 342h2M224 321h2M224 347h2M224 344h2M224 325h2M224 341h2M224 337h2M224 322h2M224 349h2M224 347h2M224 317h2M224 350h2M224 344h2M225 315h2M225 340h2M225 319h2M225 322h2M225 319h2M225 344h2M225 337h2M225 327h2M225 320h2M225 345h2M225 344h2M225 343h2M225 350h2M225 334h2M225 335h2M225 328h2M225 346h2M226 347h2M226 350h2M226 345h2M226 346h2M226 314h2M226 334h2M226 349h2M226 328h2M226 326h2M226 321h2M226 324h2M226 342h2M226 334h2M226 342h2M226 319h2M226 323h2M227 332h2M227 365h2M227 332h2M227 329h2M227 343h2M227 344h2M227 350h2M227 334h2M227 324h2M227 318h2M227 320h2M227 323h2M227 340h2M227 322h2M227 347h2M227 325h2M227 352h2M228 313h2M228 321h2M228 346h2M228 322h2M228 319h2M228 353h2M228 344h2M228 338h2M228 329h2M228 316h2M228 317h2M228 344h2M228 329h2M228 330h2M228 349h2M228 306h2M228 332h2M229 345h2M229 337h2M229 341h2M229 319h2M229 334h2M229 327h2M229 328h2M229 328h2M229 328h2M229 354h2M229 318h2M229 350h2M229 343h2M229 351h2M229 328h2M229 351h2M229 341h2M230 316h2M230 325h2M230 318h2M230 328h2M230 350h2M230 338h2M230 328h2M230 336h2M230 337h2M230 338h2M230 345h2M230 323h2M230 342h2M230 317h2M230 344h2M230 312h2M231 318h2M231 331h2M231 320h2M231 328h2M231 331h2M231 318h2M231 321h2M231 343h2M231 313h2M231 351h2M231 350h2M231 334h2M231 339h2M231 331h2M231 305h2M231 322h2M231 315h2M232 315h2M232 335h2M232 343h2M232 328h2M232 343h2M232 339h2M232 315h2M232 336h2M232 323h2M232 326h2M232 338h2M232 340h2M232 329h2M232 337h2M232 318h2M232 333h2M232 338h2M233 331h2M233 329h2M233 347h2M233 336h2M233 331h2M233 316h2M233 334h2M233 332h2M233 310h2M233 332h2M233 316h2M233 347h2M233 331h2M233 346h2M233 315h2M233 329h2M233 343h2M234 347h2M234 336h2M234 345h2M234 330h2M234 322h2M234 337h2M234 352h2M234 341h2M234 346h2M234 318h2M234 341h2M234 328h2M234 335h2M234 320h2M234 350h2M234 303h2M234 320h2M235 314h2M235 322h2M235 328h2M235 340h2M235 340h2M235 321h2M235 319h2M235 343h2M235 346h2M235 337h2M235 326h2M235 335h2M235 311h2M235 330h2M235 314h2M235 324h2M236 324h2M236 314h2M236 349h2M236 326h2M236 342h2M236 320h2M236 340h2M236 319h2M236 337h2M236 321h2M236 323h2M236 318h2M236 361h2M236 334h2M236 324h2M236 342h2M236 346h2M237 318h2M237 313h2M237 321h2M237 332h2M237 327h2M237 320h2M237 328h2M237 335h2M237 317h2M237 338h2M237 332h2M237 317h2M237 323h2M237 319h2M237 312h2M237 310h2M237 331h2M238 339h2M238 320h2M238 313h2M238 323h2M238 349h2M238 347h2M238 330h2M238 318h2M238 317h2M238 333h2M238 330h2M238 334h2M238 348h2M238 351h2M238 329h2M238 329h2M238 319h2M239 342h2M239 315h2M239 342h2M239 327h2M239 325h2M239 348h2M239 312h2M239 311h2M239 314h2M239 348h2M239 323h2M239 325h2M239 311h2M239 343h2M239 345h2M239 325h2M240 339h2M240 349h2M240 346h2M240 329h2M240 355h2M240 318h2M240 314h2M240 358h2M240 312h2M240 315h2M240 321h2M240 322h2M240 336h2M240 342h2M240 317h2M240 333h2M240 331h2M241 322h2M241 324h2M241 321h2M241 324h2M241 334h2M241 318h2M241 337h2M241 341h2M241 327h2M241 317h2M241 321h2M241 342h2M241 347h2M241 344h2M241 316h2M241 338h2M241 324h2M242 349h2M242 335h2M242 321h2M242 336h2M242 322h2M242 314h2M242 344h2M242 321h2M242 338h2M242 345h2M242 336h2M242 350h2M242 315h2M242 318h2M242 349h2M242 329h2M242 311h2M243 324h2M243 324h2M243 330h2M243 318h2M243 343h2M243 324h2M243 342h2M243 321h2M243 341h2M243 344h2M243 330h2M243 317h2M243 339h2M243 338h2M243 344h2M243 327h2M243 333h2M244 344h2M244 330h2M244 329h2M244 343h2M244 327h2M244 336h2M244 343h2M244 311h2M244 342h2M244 337h2M244 322h2M244 332h2M244 331h2M244 320h2M244 339h2M244 336h2M245 316h2M245 316h2M245 322h2M245 334h2M245 321h2M245 316h2M245 342h2M245 312h2M245 345h2M245 339h2M245 347h2M245 340h2M245 344h2M245 313h2M245 341h2M245 318h2M245 351h2M246 333h2M246 341h2M246 359h2M246 340h2M246 328h2M246 341h2M246 311h2M246 315h2M246 336h2M246 330h2M246 343h2M246 336h2M246 349h2M246 324h2M246 329h2M246 343h2M246 345h2M247 313h2M247 348h2M247 338h2M247 350h2M247 331h2M247 336h2M247 329h2M247 335h2M247 341h2M247 322h2M247 341h2M247 337h2M247 333h2M247 342h2M247 346h2M247 344h2M247 336h2M248 334h2M248 335h2M248 319h2M248 344h2M248 337h2M248 330h2M248 318h2M248 345h2M248 319h2M248 308h2M248 338h2M248 343h2M248 317h2M248 342h2M248 343h2M248 350h2M249 328h2M249 314h2M249 314h2M249 324h2M249 330h2M249 305h2M249 325h2M249 312h2M249 322h2M249 325h2M249 323h2M249 344h2M249 342h2M249 346h2M249 310h2M249 314h2M249 332h2M250 343h2M250 347h2M250 332h2M250 336h2M250 341h2M250 343h2M250 321h2M250 348h2M250 333h2M250 344h2M250 343h2M250 330h2M250 326h2M250 335h2M250 340h2M250 338h2M250 342h2M251 336h2M251 315h2M251 320h2M251 341h2M251 368h2M251 330h2M251 311h2M251 324h2M251 322h2M251 339h2M251 337h2M251 344h2M251 330h2M251 322h2M251 318h2M251 318h2M251 334h2M252 340h2M252 309h2M252 319h2M252 338h2M252 331h2M252 320h2M252 318h2M252 325h2M252 335h2M252 328h2M252 314h2M252 324h2M252 321h2M252 312h2M252 316h2M252 331h2M252 341h2M253 324h2M253 318h2M253 313h2M253 342h2M253 348h2M253 325h2M253 317h2M253 345h2M253 330h2M253 343h2M253 312h2M253 335h2M253 345h2M253 323h2M253 332h2M253 331h2M254 342h2M254 337h2M254 342h2M254 337h2M254 324h2M254 337h2M254 321h2M254 309h2M254 328h2M254 317h2M254 309h2M254 334h2M254 335h2M254 329h2M254 317h2M254 316h2M254 334h2M255 325h2M255 352h2M255 325h2M255 333h2M255 332h2M255 337h2M255 324h2M255 328h2M255 334h2M255 320h2M255 318h2M255 340h2M255 336h2M255 312h2M255 348h2M255 317h2M255 334h2M256 328h2M256 314h2M256 320h2M256 313h2M256 315h2M256 343h2M256 330h2M256 314h2M256 344h2M256 325h2M256 307h2M256 345h2M256 340h2M256 337h2M256 332h2M256 332h2M256 329h2M257 313h2M257 326h2M257 323h2M257 323h2M257 309h2M257 313h2M257 332h2M257 364h2M257 331h2M257 320h2M257 316h2M257 345h2M257 345h2M257 326h2M257 343h2M257 333h2M258 337h2M258 337h2M258 306h2M258 329h2M258 331h2M258 329h2M258 329h2M258 345h2M258 306h2M258 326h2M258 348h2M258 322h2M258 342h2M258 314h2M258 310h2M258 330h2M258 309h2M259 317h2M259 341h2M259 331h2M259 330h2M259 325h2M259 314h2M259 343h2M259 308h2M259 326h2M259 328h2M259 313h2M259 330h2M259 313h2M259 326h2M259 325h2M259 334h2M259 336h2M260 309h2M260 322h2M260 326h2M260 312h2M260 302h2M260 334h2M260 304h2M260 339h2M260 319h2M260 329h2M260 330h2M260 315h2M260 320h2M260 331h2M260 314h2M260 303h2M260 333h2M261 334h2M261 319h2M261 324h2M261 326h2M261 324h2M261 317h2M261 327h2M261 336h2M261 306h2M261 329h2M261 306h2M261 312h2M261 332h2M261 303h2M261 330h2M261 311h2M262 314h2M262 305h2M262 314h2M262 302h2M262 337h2M262 338h2M262 333h2M262 313h2M262 330h2M262 336h2M262 328h2M262 330h2M262 323h2M262 309h2M262 321h2M262 305h2M262 308h2M263 322h2M263 325h2M263 329h2M263 326h2M263 323h2M263 307h2M263 329h2M263 319h2M263 333h2M263 303h2M263 315h2M263 334h2M263 320h2M263 329h2M263 329h2M263 317h2M263 332h2M264 329h2M264 316h2M264 321h2M264 304h2M264 316h2M264 317h2M264 325h2M264 321h2M264 316h2M264 322h2M264 306h2M264 315h2M264 328h2M264 322h2M264 305h2M264 303h2M264 311h2M265 318h2M265 326h2M265 307h2M265 325h2M265 306h2M265 306h2M265 318h2M265 327h2M265 313h2M265 331h2M265 317h2M265 313h2M265 294h2M265 328h2M265 330h2M265 308h2M265 298h2M266 330h2M266 309h2M266 331h2M266 309h2M266 325h2M266 305h2M266 320h2M266 305h2M266 319h2M266 326h2M266 319h2M266 319h2M266 326h2M266 324h2M266 309h2M266 310h2M267 300h2M267 308h2M267 307h2M267 304h2M267 313h2M267 308h2M267 328h2M267 312h2M267 327h2M267 308h2M267 320h2M267 312h2M267 323h2M267 296h2M267 320h2M267 301h2M267 301h2M268 319h2M268 307h2M268 316h2M268 291h2M268 303h2M268 326h2M268 306h2M268 321h2M268 320h2M268 290h2M268 296h2M268 304h2M268 307h2M268 300h2M268 294h2M268 308h2M268 307h2M269 316h2M269 302h2M269 285h2M269 315h2M269 305h2M269 289h2M269 323h2M269 317h2M269 292h2M269 287h2M269 325h2M269 324h2M269 323h2M269 301h2M269 319h2M269 301h2M269 299h2M270 322h2M270 292h2M270 314h2M270 302h2M270 306h2M270 307h2M270 297h2M270 324h2M270 306h2M270 309h2M270 304h2M270 292h2M270 309h2M270 293h2M270 281h2M270 285h2M271 285h2M271 299h2M271 312h2M271 322h2M271 285h2M271 309h2M271 313h2M271 292h2M271 289h2M271 281h2M271 297h2M271 269h2M271 303h2M271 312h2M271 297h2M271 284h2M271 311h2M272 300h2M272 305h2M272 314h2M272 271h2M272 306h2M272 287h2M272 291h2M272 282h2M272 306h2M272 281h2M272 288h2M272 308h2M272 315h2M272 298h2M272 310h2M272 279h2M272 286h2M273 311h2M273 290h2M273 303h2M273 301h2M273 296h2M273 278h2M273 317h2M273 309h2M273 303h2M273 292h2M273 278h2M273 301h2M273 304h2M273 305h2M273 307h2M273 308h2M273 298h2M274 304h2M274 295h2M274 276h2M274 277h2M274 296h2M274 290h2M274 287h2M274 305h2M274 291h2M274 306h2M274 299h2M274 300h2M274 279h2M274 271h2M274 292h2M274 289h2M274 297h2M275 272h2M275 297h2M275 293h2M275 283h2M275 289h2M275 282h2M275 306h2M275 304h2M275 280h2M275 297h2M275 275h2M275 301h2M275 300h2M275 276h2M275 293h2M275 263h2M276 307h2M276 277h2M276 295h2M276 283h2M276 274h2M276 282h2M276 279h2M276 269h2M276 294h2M276 256h2M276 270h2M276 298h2M276 304h2M276 319h2M276 304h2M276 317h2M276 284h2M277 305h2M277 273h2M277 283h2M277 293h2M277 300h2M277 286h2M277 266h2M277 281h2M277 287h2M277 277h2M277 278h2M277 281h2M277 294h2M277 295h2M277 302h2M277 273h2M277 295h2M278 292h2M278 274h2M278 284h2M278 285h2M278 314h2M278 301h2M278 297h2M278 279h2M278 288h2M278 283h2M278 275h2M278 286h2M278 277h2M278 294h2M278 282h2M278 270h2M278 264h2M279 275h2M279 283h2M279 272h2M279 287h2M279 283h2M279 282h2M279 270h2M279 286h2M279 299h2M279 268h2M279 291h2M279 264h2M279 285h2M279 286h2M279 296h2M279 286h2M280 278h2M280 309h2M280 294h2M280 278h2M280 270h2M280 290h2M280 284h2M280 258h2M280 268h2M280 295h2M280 288h2M280 259h2M280 298h2M280 271h2M280 294h2M280 281h2M280 280h2M281 285h2M281 287h2M281 291h2M281 284h2M281 250h2M281 289h2M281 267h2M281 279h2M281 276h2M281 287h2M281 289h2M281 270h2M281 290h2M281 280h2M281 263h2M281 281h2M281 259h2M282 287h2M282 275h2M282 274h2M282 275h2M282 272h2M282 290h2M282 272h2M282 261h2M282 294h2M282 273h2M282 279h2M282 283h2M282 277h2M282 269h2M282 268h2M282 258h2M282 269h2M283 251h2M283 272h2M283 273h2M283 290h2M283 294h2M283 282h2M283 288h2M283 269h2M283 265h2M283 266h2M283 275h2M283 270h2M283 280h2M283 257h2M283 288h2M283 278h2M283 266h2M284 286h2M284 264h2M284 289h2M284 277h2M284 285h2M284 282h2M284 279h2M284 284h2M284 292h2M284 267h2M284 280h2M284 258h2M284 261h2M284 261h2M284 292h2M284 259h2M285 283h2M285 269h2M285 280h2M285 288h2M285 250h2M285 282h2M285 281h2M285 280h2M285 261h2M285 282h2M285 287h2M285 274h2M285 287h2M285 275h2M285 283h2M285 266h2M285 264h2M286 269h2M286 258h2M286 256h2M286 265h2M286 267h2M286 287h2M286 293h2M286 255h2M286 280h2M286 264h2M286 277h2M286 256h2M286 282h2M286 272h2M286 270h2M286 261h2M286 291h2M287 273h2M287 272h2M287 264h2M287 282h2M287 269h2M287 264h2M287 262h2M287 279h2M287 277h2M287 276h2M287 254h2M287 275h2M287 252h2M287 289h2M287 273h2M287 288h2M287 288h2M288 281h2M288 325h2M288 255h2M288 256h2M288 252h2M288 275h2M288 290h2M288 269h2M288 254h2M288 282h2M288 297h2M288 291h2M288 258h2M288 269h2M288 253h2M288 253h2M289 285h2M289 277h2M289 281h2M289 267h2M289 286h2M289 276h2M289 272h2M289 286h2M289 273h2M289 250h2M289 287h2M289 247h2M289 268h2M289 281h2M289 248h2M289 267h2M289 272h2M290 262h2M290 255h2M290 281h2M290 283h2M290 278h2M290 291h2M290 254h2M290 274h2M290 267h2M290 253h2M290 270h2M290 252h2M290 270h2M290 270h2M290 251h2M290 278h2M290 272h2M291 258h2M291 250h2M291 246h2M291 278h2M291 275h2M291 283h2M291 273h2M291 276h2M291 268h2M291 252h2M291 279h2M291 252h2M291 281h2M291 267h2M291 302h2M291 253h2M291 276h2M292 260h2M292 287h2M292 259h2M292 279h2M292 270h2M292 259h2M292 280h2M292 268h2M292 253h2M292 282h2M292 269h2M292 282h2M292 288h2M292 276h2M292 269h2M292 266h2M293 253h2M293 256h2M293 278h2M293 267h2M293 262h2M293 281h2M293 272h2M293 269h2M293 283h2M293 251h2M293 272h2M293 272h2M293 255h2M293 275h2M293 253h2M293 268h2M293 285h2M294 267h2M294 256h2M294 274h2M294 290h2M294 268h2M294 253h2M294 283h2M294 277h2M294 284h2M294 257h2M294 271h2M294 262h2M294 280h2M294 261h2M294 249h2M294 285h2M294 262h2M295 254h2M295 255h2M295 255h2M295 281h2M295 267h2M295 283h2M295 279h2M295 265h2M295 279h2M295 276h2M295 270h2M295 283h2M295 269h2M295 258h2M295 289h2M295 249h2M295 257h2M296 250h2M296 261h2M296 267h2M296 280h2M296 274h2M296 283h2M296 272h2M296 255h2M296 257h2M296 261h2M296 279h2M296 257h2M296 255h2M296 276h2M296 285h2M296 279h2M296 271h2M297 256h2M297 281h2M297 268h2M297 276h2M297 253h2M297 262h2M297 266h2M297 271h2M297 260h2M297 259h2M297 255h2M297 259h2M297 274h2M297 278h2M297 284h2M297 275h2M298 284h2M298 258h2M298 284h2M298 282h2M298 255h2M298 258h2M298 248h2M298 272h2M298 285h2M298 259h2M298 273h2M298 259h2M298 284h2M298 288h2M298 266h2M298 262h2M298 264h2M299 255h2M299 295h2M299 287h2M299 242h2M299 267h2M299 267h2M299 283h2M299 267h2M299 273h2M299 268h2M299 278h2M299 247h2M299 250h2M299 286h2M299 271h2M299 279h2M299 274h2M300 292h2M300 283h2M300 290h2M300 284h2M300 270h2M300 284h2M300 252h2M300 256h2M300 277h2M300 262h2M300 251h2M300 281h2M300 268h2M300 269h2M300 275h2M300 278h2M300 285h2M301 288h2M301 282h2M301 266h2M301 253h2M301 271h2M301 274h2M301 257h2M301 265h2M301 264h2M301 270h2M301 266h2M301 273h2M301 270h2M301 275h2M301 252h2M301 254h2M302 258h2M302 250h2M302 274h2M302 280h2M302 277h2M302 259h2M302 272h2M302 285h2M302 282h2M302 277h2M302 252h2M302 275h2M302 257h2M302 259h2M302 278h2M302 250h2M302 286h2M303 286h2M303 269h2M303 277h2M303 283h2M303 267h2M303 267h2M303 281h2M303 269h2M303 269h2M303 261h2M303 285h2M303 278h2M303 264h2M303 288h2M303 259h2M303 306h2M303 273h2M304 259h2M304 280h2M304 253h2M304 281h2M304 289h2M304 290h2M304 278h2M304 285h2M304 247h2M304 264h2M304 268h2M304 261h2M304 273h2M304 257h2M304 261h2M304 270h2M304 274h2M305 291h2M305 275h2M305 276h2M305 283h2M305 252h2M305 278h2M305 270h2M305 287h2M305 268h2M305 256h2M305 269h2M305 251h2M305 283h2M305 279h2M305 260h2M305 275h2M305 258h2M306 290h2M306 276h2M306 262h2M306 259h2M306 255h2M306 281h2M306 267h2M306 270h2M306 260h2M306 281h2M306 282h2M306 262h2M306 281h2M306 278h2M306 277h2M306 258h2M307 273h2M307 271h2M307 254h2M307 270h2M307 255h2M307 285h2M307 287h2M307 287h2M307 262h2M307 274h2M307 278h2M307 270h2M307 260h2M307 272h2M307 276h2M307 262h2M307 272h2M308 270h2M308 283h2M308 254h2M308 273h2M308 289h2M308 255h2M308 271h2M308 258h2M308 258h2M308 243h2M308 253h2M308 265h2M308 265h2M308 252h2M308 265h2M308 250h2M308 233h2M309 272h2M309 263h2M309 276h2M309 258h2M309 270h2M309 262h2M309 256h2M309 268h2M309 252h2M309 259h2M309 255h2M309 260h2M309 288h2M309 262h2M309 274h2M309 257h2M309 278h2M310 258h2M310 279h2M310 271h2M310 250h2M310 253h2M310 278h2M310 269h2M310 277h2M310 256h2M310 269h2M310 252h2M310 251h2M310 276h2M310 262h2M310 250h2M310 273h2M311 253h2M311 256h2M311 254h2M311 285h2M311 258h2M311 254h2M311 273h2M311 306h2M311 281h2M311 261h2M311 264h2M311 259h2M311 266h2M311 279h2M311 284h2M311 258h2M311 289h2M312 281h2M312 280h2M312 257h2M312 274h2M312 255h2M312 265h2M312 255h2M312 258h2M312 257h2M312 278h2M312 279h2M312 267h2M312 264h2M312 299h2M312 256h2M312 276h2M312 286h2M313 258h2M313 260h2M313 281h2M313 286h2M313 287h2M313 281h2M313 277h2M313 279h2M313 241h2M313 261h2M313 279h2M313 287h2M313 285h2M313 273h2M313 262h2M313 256h2M313 270h2M314 291h2M314 278h2M314 265h2M314 274h2M314 269h2M314 295h2M314 263h2M314 257h2M314 289h2M314 279h2M314 285h2M314 272h2M314 264h2M314 278h2M314 292h2M314 268h2M314 300h2M315 276h2M315 270h2M315 253h2M315 276h2M315 264h2M315 278h2M315 271h2M315 284h2M315 283h2M315 260h2M315 271h2M315 297h2M315 251h2M315 255h2M315 279h2M315 290h2M316 263h2M316 286h2M316 271h2M316 278h2M316 255h2M316 282h2M316 246h2M316 282h2M316 275h2M316 251h2M316 251h2M316 256h2M316 285h2M316 270h2M316 274h2M316 267h2M316 277h2M317 253h2M317 283h2M317 255h2M317 274h2M317 296h2M317 275h2M317 273h2M317 270h2M317 248h2M317 285h2M317 284h2M317 248h2M317 254h2M317 274h2M317 280h2M317 266h2M317 249h2M318 275h2M318 279h2M318 274h2M318 288h2M318 284h2M318 289h2M318 274h2M318 250h2M318 284h2M318 270h2M318 284h2M318 291h2M318 253h2M318 288h2M318 283h2M318 258h2M318 281h2M319 283h2M319 253h2M319 280h2M319 255h2M319 277h2M319 271h2M319 281h2M319 272h2M319 267h2M319 258h2M319 280h2M319 265h2M319 282h2M319 275h2M319 285h2M319 262h2M320 264h2M320 263h2M320 260h2M320 274h2M320 283h2M320 288h2M320 274h2M320 258h2M320 271h2M320 266h2M320 252h2M320 251h2M320 260h2M320 283h2M320 282h2M320 295h2M320 271h2M321 261h2M321 278h2M321 255h2M321 282h2M321 269h2M321 298h2M321 288h2M321 256h2M321 259h2M321 267h2M321 280h2M321 272h2M321 274h2M321 272h2M321 266h2M321 262h2M321 308h2M322 278h2M322 278h2M322 259h2M322 251h2M322 280h2M322 273h2M322 281h2M322 275h2M322 288h2M322 256h2M322 260h2M322 273h2M322 262h2M322 275h2M322 263h2M322 270h2M322 254h2M323 271h2M323 260h2M323 267h2M323 273h2M323 249h2M323 281h2M323 261h2M323 252h2M323 255h2M323 268h2M323 264h2M323 253h2M323 274h2M323 256h2M323 259h2M323 254h2M324 273h2M324 262h2M324 281h2M324 285h2M324 282h2M324 261h2M324 253h2M324 257h2M324 286h2M324 284h2M324 255h2M324 277h2M324 282h2M324 257h2M324 278h2M324 254h2M324 278h2M325 248h2M325 275h2M325 251h2M325 283h2M325 254h2M325 274h2M325 300h2M325 262h2M325 263h2M325 261h2M325 258h2M325 281h2M325 281h2M325 259h2M325 265h2M325 261h2M325 266h2M326 248h2M326 277h2M326 250h2M326 278h2M326 272h2M326 250h2M326 281h2M326 274h2M326 277h2M326 287h2M326 268h2M326 258h2M326 254h2M326 249h2M326 287h2M326 279h2M326 272h2M327 272h2M327 269h2M327 279h2M327 234h2M327 277h2M327 262h2M327 271h2M327 259h2M327 279h2M327 271h2M327 279h2M327 275h2M327 246h2M327 269h2M327 271h2M327 279h2M327 250h2M328 258h2M328 256h2M328 252h2M328 271h2M328 253h2M328 264h2M328 260h2M328 272h2M328 258h2M328 268h2M328 271h2M328 254h2M328 298h2M328 270h2M328 277h2M328 266h2M329 284h2M329 247h2M329 285h2M329 269h2M329 280h2M329 244h2M329 275h2M329 281h2M329 251h2M329 244h2M329 253h2M329 272h2M329 263h2M329 259h2M329 247h2M329 250h2M329 279h2M330 262h2M330 252h2M330 259h2M330 255h2M330 246h2M330 238h2M330 245h2M330 258h2M330 226h2M330 257h2M330 275h2M330 256h2M330 253h2M330 248h2M330 243h2M330 264h2M330 271h2M331 271h2M331 260h2M331 244h2M331 250h2M331 263h2M331 270h2M331 244h2M331 244h2M331 249h2M331 262h2M331 258h2M331 254h2M331 242h2M331 266h2M331 257h2M331 276h2M331 273h2M332 266h2M332 243h2M332 252h2M332 274h2M332 262h2M332 266h2M332 244h2M332 260h2M332 241h2M332 250h2M332 238h2M332 270h2M332 241h2M332 266h2M332 265h2M332 261h2M333 234h2M333 267h2M333 251h2M333 252h2M333 260h2M333 243h2M333 248h2M333 264h2M333 252h2M333 250h2M333 248h2M333 258h2M333 246h2M333 272h2M333 277h2M333 271h2M333 250h2M334 255h2M334 245h2M334 239h2M334 247h2M334 261h2M334 257h2M334 254h2M334 239h2M334 253h2M334 258h2M334 248h2M334 263h2M334 269h2M334 268h2M334 250h2M334 254h2M334 249h2M335 251h2M335 256h2M335 248h2M335 270h2M335 243h2M335 245h2M335 246h2M335 257h2M335 266h2M335 237h2M335 238h2M335 232h2M335 257h2M335 289h2M335 237h2M335 253h2M335 239h2M336 242h2M336 264h2M336 261h2M336 253h2M336 246h2M336 248h2M336 245h2M336 231h2M336 235h2M336 268h2M336 253h2M336 236h2M336 238h2M336 271h2M336 245h2M336 266h2M336 249h2M337 231h2M337 264h2M337 235h2M337 249h2M337 231h2M337 236h2M337 266h2M337 242h2M337 235h2M337 257h2M337 241h2M337 258h2M337 255h2M337 260h2M337 255h2M337 229h2M338 261h2M338 246h2M338 236h2M338 238h2M338 234h2M338 242h2M338 231h2M338 260h2M338 241h2M338 263h2M338 236h2M338 243h2M338 257h2M338 231h2M338 235h2M338 246h2M338 250h2M339 246h2M339 248h2M339 230h2M339 238h2M339 241h2M339 253h2M339 241h2M339 240h2M339 234h2M339 240h2M339 256h2M339 231h2M339 257h2M339 265h2M339 255h2M339 254h2M339 237h2M340 244h2M340 246h2M340 229h2M340 226h2M340 239h2M340 241h2M340 233h2M340 252h2M340 225h2M340 259h2M340 234h2M340 228h2M340 255h2M340 251h2M340 256h2M340 256h2M340 246h2M341 249h2M341 264h2M341 244h2M341 250h2M341 263h2M341 233h2M341 246h2M341 264h2M341 228h2M341 246h2M341 260h2M341 255h2M341 249h2M341 258h2M341 251h2M341 252h2M342 254h2M342 238h2M342 258h2M342 266h2M342 257h2M342 255h2M342 245h2M342 239h2M342 254h2M342 229h2M342 248h2M342 258h2M342 231h2M342 238h2M342 234h2M342 248h2M342 216h2M343 242h2M343 263h2M343 230h2M343 256h2M343 232h2M343 263h2M343 246h2M343 238h2M343 235h2M343 262h2M343 232h2M343 252h2M343 263h2M343 251h2M343 236h2M343 260h2M343 230h2M344 265h2M344 256h2M344 242h2M344 262h2M344 227h2M344 223h2M344 231h2M344 259h2M344 233h2M344 230h2M344 247h2M344 238h2M344 257h2M344 264h2M344 224h2M344 256h2M344 232h2M345 243h2M345 240h2M345 246h2M345 259h2M345 259h2M345 266h2M345 249h2M345 258h2M345 250h2M345 226h2M345 227h2M345 235h2M345 256h2M345 235h2M345 240h2M345 243h2M345 255h2M346 255h2M346 245h2M346 258h2M346 229h2M346 244h2M346 241h2M346 225h2M346 242h2M346 252h2M346 250h2M346 226h2M346 262h2M346 254h2M346 243h2M346 265h2M346 238h2M347 235h2M347 239h2M347 249h2M347 261h2M347 244h2M347 242h2M347 234h2M347 260h2M347 264h2M347 227h2M347 226h2M347 240h2M347 266h2M347 231h2M347 267h2M347 237h2M347 234h2M348 250h2M348 274h2M348 267h2M348 265h2M348 236h2M348 244h2M348 232h2M348 245h2M348 242h2M348 255h2M348 266h2M348 227h2M348 257h2M348 252h2M348 237h2M348 239h2M348 257h2M349 260h2M349 241h2M349 229h2M349 231h2M349 254h2M349 276h2M349 255h2M349 264h2M349 229h2M349 255h2M349 235h2M349 253h2M349 233h2M349 251h2M349 237h2M349 252h2M349 239h2M350 267h2M350 271h2M350 254h2M350 237h2M350 233h2M350 242h2M350 270h2M350 268h2M350 246h2M350 243h2M350 244h2M350 243h2M350 261h2M350 247h2M350 246h2M350 278h2M351 264h2M351 245h2M351 222h2M351 244h2M351 266h2M351 269h2M351 272h2M351 262h2M351 235h2M351 249h2M351 258h2M351 236h2M351 244h2M351 263h2M351 261h2M351 226h2M351 244h2M352 237h2M352 256h2M352 239h2M352 259h2M352 270h2M352 258h2M352 238h2M352 251h2M352 255h2M352 239h2M352 246h2M352 265h2M352 263h2M352 265h2M352 257h2M352 257h2M352 264h2M353 238h2M353 241h2M353 253h2M353 235h2M353 248h2M353 239h2M353 240h2M353 251h2M353 249h2M353 242h2M353 248h2M353 256h2M353 259h2M353 258h2M353 266h2M353 238h2M353 238h2M354 258h2M354 261h2M354 269h2M354 236h2M354 248h2M354 235h2M354 250h2M354 256h2M354 263h2M354 236h2M354 244h2M354 275h2M354 258h2M354 238h2M354 252h2M354 243h2M355 254h2M355 245h2M355 276h2M355 280h2M355 273h2M355 262h2M355 264h2M355 240h2M355 239h2M355 257h2M355 240h2M355 262h2M355 246h2M355 231h2M355 250h2M355 278h2M355 259h2M356 261h2M356 265h2M356 267h2M356 261h2M356 259h2M356 258h2M356 252h2M356 250h2M356 241h2M356 244h2M356 242h2M356 260h2M356 262h2M356 271h2M356 265h2M356 273h2M356 256h2M357 277h2M357 256h2M357 261h2M357 247h2M357 269h2M357 238h2M357 268h2M357 275h2M357 256h2M357 254h2M357 274h2M357 262h2M357 269h2M357 250h2M357 251h2M357 269h2M357 279h2M358 276h2M358 257h2M358 277h2M358 260h2M358 246h2M358 253h2M358 253h2M358 246h2M358 265h2M358 275h2M358 260h2M358 275h2M358 275h2M358 245h2M358 248h2M358 277h2M358 249h2M359 278h2M359 265h2M359 245h2M359 241h2M359 272h2M359 253h2M359 270h2M359 245h2M359 273h2M359 273h2M359 280h2M359 258h2M359 260h2M359 258h2M359 280h2M359 247h2M360 248h2M360 251h2M360 282h2M360 281h2M360 293h2M360 274h2M360 254h2M360 284h2M360 267h2M360 285h2M360 261h2M360 248h2M360 255h2M360 262h2M360 276h2M360 257h2M360 271h2M361 262h2M361 264h2M361 273h2M361 271h2M361 254h2M361 251h2M361 254h2M361 268h2M361 256h2M361 283h2M361 247h2M361 285h2M361 253h2M361 255h2M361 270h2M361 253h2M361 251h2M362 280h2M362 260h2M362 290h2M362 261h2M362 240h2M362 265h2M362 286h2M362 277h2M362 257h2M362 278h2M362 250h2M362 272h2M362 281h2M362 254h2M362 284h2M362 264h2M362 278h2M363 252h2M363 267h2M363 279h2M363 267h2M363 279h2M363 279h2M363 283h2M363 278h2M363 291h2M363 264h2M363 289h2M363 265h2M363 279h2M363 265h2M363 271h2M363 281h2M364 256h2M364 268h2M364 257h2M364 268h2M364 274h2M364 258h2M364 267h2M364 282h2M364 268h2M364 290h2M364 261h2M364 268h2M364 257h2M364 287h2M364 288h2M364 262h2M364 266h2M365 290h2M365 293h2M365 282h2M365 280h2M365 293h2M365 290h2M365 281h2M365 297h2M365 291h2M365 295h2M365 280h2M365 262h2M365 266h2M365 269h2M365 275h2M365 281h2M365 295h2M366 290h2M366 281h2M366 262h2M366 273h2M366 273h2M366 278h2M366 263h2M366 287h2M366 265h2M366 272h2M366 281h2M366 283h2M366 284h2M366 275h2M366 259h2M366 265h2M366 289h2M367 292h2M367 285h2M367 294h2M367 291h2M367 266h2M367 289h2M367 275h2M367 283h2M367 295h2M367 256h2M367 290h2M367 262h2M367 282h2M367 280h2M367 287h2M367 275h2M367 244h2M368 286h2M368 292h2M368 259h2M368 290h2M368 287h2M368 282h2M368 297h2M368 285h2M368 270h2M368 271h2M368 277h2M368 283h2M368 270h2M368 302h2M368 293h2M368 288h2M369 277h2M369 283h2M369 268h2M369 294h2M369 277h2M369 286h2M369 288h2M369 266h2M369 293h2M369 298h2M369 267h2M369 262h2M369 293h2M369 294h2M369 297h2M369 285h2M369 264h2M370 306h2M370 294h2M370 300h2M370 274h2M370 257h2M370 298h2M370 263h2M370 295h2M370 292h2M370 296h2M370 263h2M370 283h2M370 279h2M370 296h2M370 283h2M370 279h2M370 273h2M371 263h2M371 297h2M371 291h2M371 274h2M371 291h2M371 270h2M371 291h2M371 293h2M371 278h2M371 281h2M371 287h2M371 300h2M371 273h2M371 297h2M371 268h2M371 290h2M371 292h2M372 279h2M372 269h2M372 290h2M372 285h2M372 287h2M372 271h2M372 288h2M372 266h2M372 267h2M372 289h2M372 268h2M372 303h2M372 275h2M372 304h2M372 291h2M372 288h2M373 289h2M373 270h2M373 291h2M373 305h2M373 302h2M373 280h2M373 301h2M373 299h2M373 296h2M373 265h2M373 288h2M373 297h2M373 282h2M373 292h2M373 283h2M373 271h2M373 279h2M374 285h2M374 263h2M374 288h2M374 288h2M374 275h2M374 271h2M374 285h2M374 294h2M374 289h2M374 306h2M374 298h2M374 297h2M374 287h2M374 277h2M374 282h2M374 286h2M374 272h2M375 291h2M375 281h2M375 287h2M375 296h2M375 278h2M375 310h2M375 270h2M375 276h2M375 277h2M375 286h2M375 290h2M375 294h2M375 291h2M375 295h2M375 263h2M375 272h2M375 291h2M376 277h2M376 301h2M376 276h2M376 273h2M376 281h2M376 270h2M376 283h2M376 284h2M376 298h2M376 309h2M376 304h2M376 276h2M376 311h2M376 289h2M376 315h2M376 283h2M376 274h2M377 288h2M377 308h2M377 287h2M377 294h2M377 275h2M377 305h2M377 302h2M377 274h2M377 278h2M377 279h2M377 289h2M377 284h2M377 275h2M377 284h2M377 311h2M377 304h2M378 312h2M378 310h2M378 312h2M378 294h2M378 289h2M378 279h2M378 298h2M378 308h2M378 275h2M378 271h2M378 271h2M378 311h2M378 262h2M378 289h2M378 293h2M378 309h2M378 274h2M379 293h2M379 295h2M379 301h2M379 284h2M379 307h2M379 283h2M379 305h2M379 293h2M379 305h2M379 264h2M379 281h2M379 302h2M379 281h2M379 278h2M379 304h2M379 313h2M379 294h2M380 302h2M380 281h2M380 307h2M380 287h2M380 314h2M380 292h2M380 309h2M380 281h2M380 289h2M380 291h2M380 313h2M380 298h2M380 282h2M380 289h2M380 284h2M380 301h2M380 309h2M381 282h2M381 303h2M381 286h2M381 293h2M381 314h2M381 286h2M381 280h2M381 299h2M381 293h2M381 286h2M381 307h2M381 311h2M381 303h2M381 317h2M381 311h2M381 300h2M382 290h2M382 294h2M382 311h2M382 288h2M382 285h2M382 288h2M382 289h2M382 306h2M382 286h2M382 293h2M382 309h2M382 294h2M382 288h2M382 297h2M382 298h2M382 323h2M382 288h2M383 296h2M383 316h2M383 307h2M383 280h2M383 303h2M383 291h2M383 311h2M383 295h2M383 294h2M383 284h2M383 275h2M383 299h2M383 305h2M383 315h2M383 310h2M383 301h2M383 279h2M384 298h2M384 293h2M384 291h2M384 316h2M384 310h2M384 302h2M384 315h2M384 312h2M384 289h2M384 290h2M384 285h2M384 313h2M384 299h2M384 306h2M384 302h2M384 292h2M384 300h2M385 315h2M385 314h2M385 286h2M385 302h2M385 310h2M385 302h2M385 320h2M385 314h2M385 313h2M385 295h2M385 290h2M385 305h2M385 311h2M385 291h2M385 306h2M385 304h2M385 279h2M386 296h2M386 299h2M386 299h2M386 319h2M386 283h2M386 289h2M386 297h2M386 296h2M386 310h2M386 301h2M386 311h2M386 316h2M386 317h2M386 313h2M386 315h2M386 302h2M387 306h2M387 285h2M387 288h2M387 312h2M387 302h2M387 300h2M387 309h2M387 302h2M387 299h2M387 278h2M387 294h2M387 308h2M387 293h2M387 320h2M387 293h2M387 293h2M387 293h2M388 309h2M388 307h2M388 315h2M388 299h2M388 294h2M388 290h2M388 311h2M388 298h2M388 311h2M388 290h2M388 281h2M388 321h2M388 303h2M388 295h2M388 315h2M388 321h2M388 322h2M389 301h2M389 319h2M389 303h2M389 332h2M389 317h2M389 292h2M389 303h2M389 303h2M389 307h2M389 307h2M389 292h2M389 291h2M389 310h2M389 321h2M389 300h2M389 282h2M389 288h2M390 320h2M390 307h2M390 300h2M390 309h2M390 320h2M390 317h2M390 302h2M390 295h2M390 298h2M390 296h2M390 300h2M390 324h2M390 315h2M390 311h2M390 310h2M390 304h2M391 305h2M391 306h2M391 302h2M391 286h2M391 309h2M391 299h2M391 312h2M391 309h2M391 289h2M391 300h2M391 295h2M391 296h2M391 287h2M391 301h2M391 319h2M391 307h2M391 290h2M392 319h2M392 321h2M392 323h2M392 293h2M392 316h2M392 291h2M392 301h2M392 296h2M392 307h2M392 308h2M392 296h2M392 315h2M392 311h2M392 308h2M392 297h2M392 279h2M392 295h2M393 304h2M393 312h2M393 302h2M393 291h2M393 303h2M393 299h2M393 304h2M393 302h2M393 300h2M393 317h2M393 317h2M393 304h2M393 306h2M393 299h2M393 294h2M393 315h2M393 307h2M394 318h2M394 298h2M394 307h2M394 317h2M394 314h2M394 290h2M394 306h2M394 317h2M394 314h2M394 305h2M394 295h2M394 314h2M394 318h2M394 316h2M394 296h2M394 294h2M395 290h2M395 304h2M395 286h2M395 319h2M395 309h2M395 307h2M395 308h2M395 304h2M395 297h2M395 318h2M395 328h2M395 300h2M395 298h2M395 303h2M395 314h2M395 297h2M395 301h2M396 294h2M396 290h2M396 289h2M396 304h2M396 315h2M396 309h2M396 331h2M396 321h2M396 291h2M396 293h2M396 301h2M396 298h2M396 300h2M396 296h2M396 291h2M396 296h2M396 295h2M397 291h2M397 312h2M397 296h2M397 323h2M397 305h2M397 289h2M397 289h2M397 287h2M397 311h2M397 293h2M397 283h2M397 297h2M397 316h2M397 319h2M397 291h2M397 292h2M397 292h2M398 302h2M398 299h2M398 298h2M398 302h2M398 302h2M398 317h2M398 302h2M398 301h2M398 301h2M398 310h2M398 322h2M398 317h2M398 322h2M398 296h2M398 317h2M398 292h2M398 312h2M399 291h2M399 317h2M399 320h2M399 298h2M399 296h2M399 311h2M399 305h2M399 300h2M399 310h2M399 311h2M399 328h2M399 308h2M399 315h2M399 289h2M399 318h2M399 285h2M400 293h2M400 305h2M400 290h2M400 296h2M400 307h2M400 309h2M400 312h2M400 291h2M400 324h2M400 308h2M400 325h2M400 300h2M400 312h2M400 308h2M400 289h2M400 299h2M400 315h2M401 312h2M401 293h2M401 297h2M401 327h2M401 320h2M401 289h2M401 285h2M401 316h2M401 317h2M401 288h2M401 306h2M401 301h2M401 318h2M401 316h2M401 296h2M401 295h2M401 311h2M402 289h2M402 304h2M402 355h2M402 310h2M402 312h2M402 317h2M402 293h2M402 308h2M402 313h2M402 307h2M402 286h2M402 296h2M402 321h2M402 290h2M402 305h2M402 326h2M402 288h2M403 285h2M403 320h2M403 301h2M403 316h2M403 296h2M403 311h2M403 326h2M403 297h2M403 310h2M403 303h2M403 289h2M403 304h2M403 312h2M403 315h2M403 304h2M403 297h2M404 296h2M404 319h2M404 325h2M404 287h2M404 304h2M404 295h2M404 296h2M404 323h2M404 301h2M404 304h2M404 295h2M404 320h2M404 290h2M404 291h2M404 286h2M404 308h2M404 287h2M405 283h2M405 306h2M405 303h2M405 300h2M405 314h2M405 296h2M405 298h2M405 315h2M405 311h2M405 320h2M405 308h2M405 288h2M405 307h2M405 286h2M405 294h2M405 326h2M405 317h2M406 297h2M406 323h2M406 298h2M406 319h2M406 299h2M406 326h2M406 318h2M406 307h2M406 288h2M406 293h2M406 291h2M406 302h2M406 311h2M406 299h2M406 325h2M406 313h2M406 291h2M407 318h2M407 299h2M407 296h2M407 321h2M407 288h2M407 316h2M407 287h2M407 313h2M407 300h2M407 286h2M407 295h2M407 305h2M407 319h2M407 305h2M407 303h2M407 322h2M407 309h2M408 287h2M408 307h2M408 305h2M408 316h2M408 306h2M408 290h2M408 309h2M408 329h2M408 317h2M408 316h2M408 290h2M408 308h2M408 312h2M408 287h2M408 315h2M408 303h2M409 291h2M409 295h2M409 319h2M409 306h2M409 314h2M409 297h2M409 316h2M409 316h2M409 318h2M409 320h2M409 297h2M409 304h2M409 306h2M409 314h2M409 308h2M409 312h2M409 313h2M410 294h2M410 318h2M410 299h2M410 313h2M410 325h2M410 322h2M410 292h2M410 324h2M410 317h2M410 291h2M410 315h2M410 333h2M410 317h2M410 296h2M410 325h2M410 319h2M410 320h2M411 307h2M411 302h2M411 305h2M411 300h2M411 311h2M411 317h2M411 289h2M411 309h2M411 313h2M411 305h2M411 287h2M411 321h2M411 318h2M411 295h2M411 307h2M411 304h2M411 288h2M412 300h2M412 294h2M412 300h2M412 329h2M412 297h2M412 329h2M412 296h2M412 317h2M412 310h2M412 303h2M412 324h2M412 300h2M412 289h2M412 322h2M412 293h2M412 305h2M413 311h2M413 287h2M413 321h2M413 323h2M413 293h2M413 319h2M413 294h2M413 321h2M413 296h2M413 313h2M413 305h2M413 305h2M413 313h2M413 309h2M413 301h2M413 326h2M413 291h2M414 293h2M414 317h2M414 321h2M414 316h2M414 305h2M414 311h2M414 313h2M414 305h2M414 337h2M414 302h2M414 300h2M414 332h2M414 309h2M414 324h2M414 298h2M414 318h2M414 329h2M415 293h2M415 327h2M415 299h2M415 322h2M415 320h2M415 294h2M415 310h2M415 325h2M415 325h2M415 304h2M415 311h2M415 325h2M415 313h2M415 322h2M415 329h2M415 316h2M415 311h2M416 292h2M416 332h2M416 298h2M416 314h2M416 312h2M416 321h2M416 312h2M416 303h2M416 313h2M416 304h2M416 318h2M416 335h2M416 302h2M416 317h2M416 313h2M416 310h2M416 333h2M417 321h2M417 334h2M417 312h2M417 325h2M417 326h2M417 295h2M417 319h2M417 334h2M417 324h2M417 327h2M417 327h2M417 331h2M417 328h2M417 310h2M417 314h2M417 303h2M418 300h2M418 329h2M418 300h2M418 306h2M418 326h2M418 300h2M418 318h2M418 343h2M418 331h2M418 330h2M418 312h2M418 310h2M418 313h2M418 342h2M418 329h2M418 321h2M418 314h2M419 323h2M419 329h2M419 326h2M419 331h2M419 309h2M419 333h2M419 301h2M419 340h2M419 330h2M419 325h2M419 310h2M419 315h2M419 317h2M419 307h2M419 325h2M419 335h2M419 326h2M420 320h2M420 331h2M420 343h2M420 323h2M420 303h2M420 308h2M420 328h2M420 324h2M420 312h2M420 339h2M420 332h2M420 306h2M420 350h2M420 330h2M420 323h2M420 343h2M420 322h2M421 325h2M421 310h2M421 331h2M421 322h2M421 318h2M421 342h2M421 321h2M421 331h2M421 319h2M421 333h2M421 310h2M421 338h2M421 311h2M421 317h2M421 310h2M421 319h2M422 325h2M422 327h2M422 326h2M422 320h2M422 329h2M422 321h2M422 340h2M422 346h2M422 323h2M422 310h2M422 344h2M422 313h2M422 336h2M422 334h2M422 335h2M422 321h2M422 332h2M423 317h2M423 338h2M423 340h2M423 325h2M423 341h2M423 310h2M423 323h2M423 313h2M423 347h2M423 304h2M423 339h2M423 350h2M423 335h2M423 329h2M423 330h2M423 322h2M423 343h2M424 324h2M424 342h2M424 340h2M424 323h2M424 370h2M424 322h2M424 357h2M424 319h2M424 347h2M424 313h2M424 331h2M424 342h2M424 346h2M424 335h2M424 330h2M424 354h2M424 323h2M425 342h2M425 321h2M425 325h2M425 328h2M425 354h2M425 330h2M425 338h2M425 331h2M425 341h2M425 336h2M425 328h2M425 346h2M425 318h2M425 341h2M425 318h2M425 325h2M426 337h2M426 326h2M426 335h2M426 345h2M426 337h2M426 320h2M426 331h2M426 321h2M426 354h2M426 320h2M426 323h2M426 338h2M426 319h2M426 355h2M426 345h2M426 343h2M426 336h2M427 323h2M427 320h2M427 358h2M427 328h2M427 338h2M427 354h2M427 323h2M427 341h2M427 359h2M427 341h2M427 335h2M427 325h2M427 349h2M427 364h2M427 355h2M427 325h2M427 363h2M428 364h2M428 337h2M428 333h2M428 337h2M428 338h2M428 346h2M428 351h2M428 351h2M428 361h2M428 346h2M428 334h2M428 338h2M428 342h2M428 341h2M428 324h2M428 330h2M428 347h2M429 345h2M429 322h2M429 356h2M429 338h2M429 340h2M429 335h2M429 343h2M429 335h2M429 350h2M429 330h2M429 343h2M429 352h2M429 339h2M429 340h2M429 333h2M429 340h2M429 340h2M430 351h2M430 347h2M430 354h2M430 341h2M430 331h2M430 344h2M430 357h2M430 367h2M430 329h2M430 357h2M430 336h2M430 325h2M430 332h2M430 342h2M430 364h2M430 347h2M431 330h2M431 340h2M431 363h2M431 331h2M431 364h2M431 325h2M431 364h2M431 338h2M431 361h2M431 343h2M431 350h2M431 328h2M431 345h2M431 343h2M431 357h2M431 365h2M431 394h2M432 361h2M432 331h2M432 333h2M432 367h2M432 331h2M432 352h2M432 356h2M432 328h2M432 352h2M432 360h2M432 355h2M432 331h2M432 329h2M432 346h2M432 357h2M432 347h2M432 338h2M433 367h2M433 338h2M433 329h2M433 357h2M433 353h2M433 331h2M433 354h2M433 356h2M433 350h2M433 348h2M433 350h2M433 355h2M433 343h2M433 358h2M433 338h2M433 351h2M433 332h2M434 351h2M434 350h2M434 356h2M434 344h2M434 359h2M434 349h2M434 344h2M434 366h2M434 332h2M434 337h2M434 366h2M434 353h2M434 340h2M434 358h2M434 369h2M434 352h2M435 336h2M435 340h2M435 350h2M435 343h2M435 361h2M435 338h2M435 339h2M435 367h2M435 344h2M435 336h2M435 350h2M435 334h2M435 365h2M435 349h2M435 379h2M435 359h2M435 343h2M436 360h2M436 383h2M436 343h2M436 347h2M436 370h2M436 374h2M436 344h2M436 348h2M436 366h2M436 373h2M436 356h2M436 366h2M436 339h2M436 368h2M436 333h2M436 350h2M436 363h2M437 351h2M437 349h2M437 370h2M437 355h2M437 340h2M437 358h2M437 335h2M437 344h2M437 348h2M437 375h2M437 350h2M437 349h2M437 361h2M437 365h2M437 359h2M437 376h2M437 359h2M438 372h2M438 362h2M438 355h2M438 354h2M438 345h2M438 357h2M438 346h2M438 340h2M438 362h2M438 366h2M438 347h2M438 376h2M438 358h2M438 354h2M438 374h2M438 375h2M438 350h2M439 348h2M439 360h2M439 357h2M439 351h2M439 355h2M439 362h2M439 354h2M439 347h2M439 349h2M439 355h2M439 356h2M439 366h2M439 374h2M439 351h2M439 370h2M439 368h2M440 348h2M440 375h2M440 351h2M440 368h2M440 358h2M440 361h2M440 347h2M440 353h2M440 359h2M440 342h2M440 370h2M440 377h2M440 352h2M440 381h2M440 345h2M440 374h2M440 351h2M441 363h2M441 359h2M441 349h2M441 367h2M441 350h2M441 381h2M441 358h2M441 363h2M441 378h2M441 368h2M441 361h2M441 371h2M441 360h2M441 346h2M441 344h2M441 357h2M441 368h2M442 339h2M442 354h2M442 354h2M442 346h2M442 355h2M442 341h2M442 356h2M442 344h2M442 356h2M442 373h2M442 355h2M442 352h2M442 368h2M442 377h2M442 371h2M442 349h2M442 376h2M443 373h2M443 347h2M443 356h2M443 363h2M443 352h2M443 354h2M443 359h2M443 355h2M443 355h2M443 363h2M443 373h2M443 358h2M443 359h2M443 341h2M443 366h2M443 364h2M444 372h2M444 379h2M444 372h2M444 358h2M444 346h2M444 374h2M444 378h2M444 353h2M444 369h2M444 383h2M444 349h2M444 377h2M444 364h2M444 350h2M444 352h2M444 369h2M444 357h2M445 376h2M445 381h2M445 357h2M445 364h2M445 373h2M445 374h2M445 368h2M445 369h2M445 370h2M445 371h2M445 356h2M445 368h2M445 350h2M445 339h2M445 371h2M445 346h2M445 351h2M446 352h2M446 373h2M446 345h2M446 359h2M446 364h2M446 372h2M446 374h2M446 383h2M446 369h2M446 364h2M446 360h2M446 366h2M446 364h2M446 374h2M446 383h2M446 378h2M446 367h2M447 357h2M447 380h2M447 347h2M447 343h2M447 354h2M447 380h2M447 376h2M447 358h2M447 342h2M447 339h2M447 351h2M447 342h2M447 374h2M447 364h2M447 353h2M447 382h2M447 357h2M448 357h2M448 342h2M448 375h2M448 370h2M448 371h2M448 371h2M448 368h2M448 366h2M448 340h2M448 364h2M448 346h2M448 374h2M448 371h2M448 367h2M448 358h2M448 362h2M449 370h2M449 355h2M449 330h2M449 339h2M449 375h2M449 362h2M449 341h2M449 367h2M449 374h2M449 357h2M449 365h2M449 358h2M449 366h2M449 345h2M449 357h2M449 359h2M449 351h2M450 341h2M450 355h2M450 359h2M450 348h2M450 353h2M450 373h2M450 338h2M450 368h2M450 343h2M450 356h2M450 342h2M450 349h2M450 343h2M450 348h2M450 364h2M450 344h2M450 337h2M451 349h2M451 332h2M451 340h2M451 333h2M451 363h2M451 333h2M451 341h2M451 335h2M451 353h2M451 344h2M451 335h2M451 344h2M451 360h2M451 363h2M451 334h2M451 344h2M451 367h2M452 362h2M452 352h2M452 360h2M452 346h2M452 348h2M452 366h2M452 356h2M452 337h2M452 370h2M452 364h2M452 336h2M452 343h2M452 345h2M452 330h2M452 358h2M452 370h2M453 336h2M453 340h2M453 354h2M453 341h2M453 361h2M453 356h2M453 343h2M453 330h2M453 352h2M453 366h2M453 345h2M453 331h2M453 341h2M453 351h2M453 340h2M453 329h2M453 336h2M454 378h2M454 346h2M454 338h2M454 337h2M454 326h2M454 360h2M454 315h2M454 362h2M454 354h2M454 371h2M454 346h2M454 349h2M454 357h2M454 346h2M454 363h2M454 341h2M454 326h2M455 330h2M455 339h2M455 343h2M455 350h2M455 338h2M455 346h2M455 352h2M455 345h2M455 372h2M455 333h2M455 335h2M455 336h2M455 330h2M455 348h2M455 337h2M455 341h2M455 326h2M456 366h2M456 354h2M456 349h2M456 353h2M456 336h2M456 359h2M456 361h2M456 345h2M456 354h2M456 338h2M456 341h2M456 349h2M456 332h2M456 324h2M456 350h2M456 349h2M457 349h2M457 330h2M457 325h2M457 354h2M457 361h2M457 339h2M457 332h2M457 315h2M457 331h2M457 325h2M457 347h2M457 340h2M457 325h2M457 359h2M457 339h2M457 358h2M457 324h2M458 338h2M458 330h2M458 334h2M458 365h2M458 334h2M458 344h2M458 340h2M458 344h2M458 311h2M458 321h2M458 327h2M458 349h2M458 336h2M458 341h2M458 330h2M458 319h2M458 343h2M459 336h2M459 341h2M459 348h2M459 348h2M459 335h2M459 351h2M459 336h2M459 318h2M459 332h2M459 357h2M459 318h2M459 334h2M459 337h2M459 319h2M459 336h2M459 346h2M459 340h2M460 333h2M460 340h2M460 347h2M460 342h2M460 349h2M460 355h2M460 351h2M460 339h2M460 343h2M460 351h2M460 329h2M460 330h2M460 348h2M460 354h2M460 332h2M460 344h2M460 325h2M461 340h2M461 331h2M461 334h2M461 318h2M461 328h2M461 340h2M461 321h2M461 350h2M461 325h2M461 339h2M461 343h2M461 325h2M461 351h2M461 357h2M461 344h2M461 338h2M462 330h2M462 348h2M462 328h2M462 327h2M462 314h2M462 328h2M462 343h2M462 333h2M462 341h2M462 329h2M462 314h2M462 337h2M462 340h2M462 342h2M462 323h2M462 318h2M462 331h2M463 338h2M463 325h2M463 337h2M463 331h2M463 346h2M463 349h2M463 341h2M463 340h2M463 347h2M463 317h2M463 329h2M463 340h2M463 316h2M463 349h2M463 342h2M463 318h2M463 315h2M464 324h2M464 341h2M464 331h2M464 350h2M464 324h2M464 320h2M464 351h2M464 346h2M464 349h2M464 327h2M464 327h2M464 350h2M464 336h2M464 316h2M464 344h2M464 354h2M464 333h2M465 351h2M465 332h2M465 341h2M465 352h2M465 328h2M465 320h2M465 340h2M465 347h2M465 317h2M465 342h2M465 342h2M465 338h2M465 323h2M465 345h2M465 316h2M465 352h2M466 360h2M466 334h2M466 353h2M466 347h2M466 327h2M466 332h2M466 340h2M466 342h2M466 312h2M466 321h2M466 342h2M466 314h2M466 346h2M466 315h2M466 318h2M466 337h2M466 340h2M467 321h2M467 316h2M467 314h2M467 344h2M467 335h2M467 323h2M467 343h2M467 341h2M467 324h2M467 323h2M467 317h2M467 348h2M467 344h2M467 325h2M467 341h2M467 320h2M467 331h2M468 339h2M468 344h2M468 350h2M468 340h2M468 335h2M468 336h2M468 324h2M468 308h2M468 323h2M468 329h2M468 340h2M468 343h2M468 326h2M468 346h2M468 352h2M468 322h2M468 342h2M469 322h2M469 320h2M469 327h2M469 317h2M469 321h2M469 342h2M469 332h2M469 313h2M469 304h2M469 330h2M469 315h2M469 347h2M469 323h2M469 322h2M469 337h2M469 327h2M469 313h2M470 332h2M470 330h2M470 332h2M470 350h2M470 324h2M470 349h2M470 314h2M470 311h2M470 320h2M470 317h2M470 327h2M470 339h2M470 326h2M470 326h2M470 349h2M470 324h2M471 336h2M471 334h2M471 342h2M471 343h2M471 354h2M471 325h2M471 345h2M471 322h2M471 314h2M471 321h2M471 321h2M471 343h2M471 324h2M471 336h2M471 319h2M471 321h2M471 337h2M472 315h2M472 324h2M472 342h2M472 341h2M472 348h2M472 322h2M472 346h2M472 335h2M472 323h2M472 340h2M472 340h2M472 352h2M472 350h2M472 324h2M472 348h2M472 313h2M472 347h2M473 337h2M473 343h2M473 324h2M473 322h2M473 340h2M473 347h2M473 346h2M473 319h2M473 326h2M473 324h2M473 333h2M473 332h2M473 328h2M473 345h2M473 320h2M473 319h2M473 326h2M474 341h2M474 339h2M474 310h2M474 314h2M474 321h2M474 321h2M474 333h2M474 344h2M474 321h2M474 332h2M474 320h2M474 344h2M474 299h2M474 317h2M474 333h2M474 333h2M475 331h2M475 314h2M475 339h2M475 324h2M475 333h2M475 341h2M475 350h2M475 326h2M475 344h2M475 332h2M475 335h2M475 327h2M475 314h2M475 347h2M475 327h2M475 337h2M475 344h2M476 333h2M476 320h2M476 345h2M476 325h2M476 320h2M476 333h2M476 333h2M476 345h2M476 318h2M476 333h2M476 340h2M476 344h2M476 311h2M476 314h2M476 331h2M476 341h2M476 323h2M477 315h2M477 317h2M477 354h2M477 348h2M477 331h2M477 334h2M477 350h2M477 337h2M477 313h2M477 321h2M477 350h2M477 315h2M477 332h2M477 314h2M477 338h2M477 319h2M477 328h2M478 335h2M478 339h2M478 333h2M478 340h2M478 342h2M478 321h2M478 322h2M478 318h2M478 323h2M478 340h2M478 322h2M478 340h2M478 349h2M478 316h2M478 340h2M478 348h2M478 354h2M479 309h2M479 345h2M479 333h2M479 342h2M479 345h2M479 307h2M479 334h2M479 351h2M479 325h2M479 326h2M479 334h2M479 329h2M479 313h2M479 333h2M479 322h2M479 344h2M480 333h2M480 341h2M480 340h2M480 316h2M480 310h2M480 330h2M480 342h2M480 338h2M480 337h2M480 330h2M480 344h2M480 315h2M480 328h2M480 336h2M480 315h2M480 320h2M480 349h2M481 309h2M481 331h2M481 342h2M481 313h2M481 336h2M481 345h2M481 319h2M481 342h2M481 314h2M481 328h2M481 350h2M481 331h2M481 346h2M481 314h2M481 326h2M481 334h2M481 319h2M482 319h2M482 326h2M482 341h2M482 347h2M482 319h2M482 317h2M482 337h2M482 333h2M482 330h2M482 339h2M482 310h2M482 352h2M482 326h2M482 329h2M482 344h2M482 344h2M482 347h2M483 325h2M483 327h2M483 313h2M483 316h2M483 318h2M483 334h2M483 351h2M483 328h2M483 337h2M483 320h2M483 320h2M483 347h2M483 316h2M483 348h2M483 341h2M483 316h2M484 322h2M484 315h2M484 316h2M484 337h2M484 319h2M484 324h2M484 351h2M484 347h2M484 345h2M484 325h2M484 326h2M484 312h2M484 335h2M484 322h2M484 339h2M484 341h2M484 309h2M485 337h2M485 311h2M485 337h2M485 341h2M485 330h2M485 318h2M485 345h2M485 336h2M485 330h2M485 342h2M485 336h2M485 322h2M485 318h2M485 344h2M485 336h2M485 310h2M485 324h2M486 347h2M486 312h2M486 347h2M486 334h2M486 319h2M486 312h2M486 320h2M486 318h2M486 328h2M486 341h2M486 334h2M486 324h2M486 329h2M486 319h2M486 328h2M486 340h2M486 331h2M487 331h2M487 346h2M487 336h2M487 326h2M487 321h2M487 348h2M487 317h2M487 331h2M487 339h2M487 339h2M487 345h2M487 314h2M487 320h2M487 339h2M487 319h2M487 329h2M488 310h2M488 349h2M488 315h2M488 335h2M488 314h2M488 325h2M488 330h2M488 326h2M488 326h2M488 341h2M488 347h2M488 313h2M488 328h2M488 331h2M488 351h2M488 346h2M488 313h2M489 329h2M489 331h2M489 328h2M489 338h2M489 314h2M489 342h2M489 355h2M489 335h2M489 332h2M489 338h2M489 315h2M489 342h2M489 349h2M489 324h2M489 337h2M489 339h2M489 339h2M490 341h2M490 321h2M490 344h2M490 325h2M490 341h2M490 327h2M490 310h2M490 318h2M490 311h2M490 328h2M490 333h2M490 334h2M490 318h2M490 343h2M490 324h2M490 332h2M490 315h2M491 335h2M491 336h2M491 341h2M491 331h2M491 310h2M491 326h2M491 319h2M491 332h2M491 346h2M491 325h2M491 329h2M491 322h2M491 316h2M491 336h2M491 332h2M491 353h2M491 340h2M492 338h2M492 327h2M492 312h2M492 323h2M492 330h2M492 319h2M492 331h2M492 344h2M492 322h2M492 315h2M492 323h2M492 309h2M492 310h2M492 352h2M492 343h2M492 311h2M493 327h2M493 323h2M493 321h2M493 333h2M493 334h2M493 310h2M493 326h2M493 310h2M493 335h2M493 325h2M493 324h2M493 349h2M493 323h2M493 335h2M493 316h2M493 336h2M493 322h2M494 319h2M494 312h2M494 312h2M494 333h2M494 309h2M494 313h2M494 338h2M494 326h2M494 346h2M494 340h2M494 334h2M494 338h2M494 319h2M494 340h2M494 309h2M494 342h2M494 326h2M495 334h2M495 326h2M495 324h2M495 338h2M495 346h2M495 316h2M495 334h2M495 311h2M495 323h2M495 330h2M495 344h2M495 314h2M495 337h2M495 312h2M495 321h2M495 324h2M495 337h2M496 327h2M496 343h2M496 318h2M496 316h2M496 339h2M496 321h2M496 335h2M496 312h2M496 333h2M496 333h2M496 330h2M496 304h2M496 311h2M496 327h2M496 314h2M496 327h2M497 341h2M497 312h2M497 347h2M497 352h2M497 305h2M497 339h2M497 305h2M497 313h2M497 343h2M497 323h2M497 329h2M497 322h2M497 329h2M497 326h2M497 342h2M497 327h2M497 328h2M498 315h2M498 312h2M498 312h2M498 316h2M498 306h2M498 320h2M498 329h2M498 338h2M498 311h2M498 315h2M498 332h2M498 320h2M498 308h2M498 320h2M498 329h2M498 309h2M498 327h2M499 340h2M499 336h2M499 303h2M499 336h2M499 309h2M499 339h2M499 324h2M499 328h2M499 325h2M499 337h2M499 328h2M499 311h2M499 317h2M499 337h2M499 304h2M499 305h2M499 320h2M500 326h2M500 336h2M500 335h2M500 322h2M500 337h2M500 298h2M500 317h2M500 326h2M500 313h2M500 331h2M500 300h2M500 317h2M500 309h2M500 331h2M500 315h2M500 306h2M500 322h2M501 335h2M501 332h2M501 305h2M501 317h2M501 295h2M501 312h2M501 297h2M501 302h2M501 325h2M501 317h2M501 319h2M501 295h2M501 332h2M501 317h2M501 319h2M501 297h2M502 302h2M502 323h2M502 331h2M502 333h2M502 328h2M502 296h2M502 298h2M502 303h2M502 316h2M502 318h2M502 309h2M502 300h2M502 332h2M502 329h2M502 342h2M502 329h2M502 292h2M503 331h2M503 294h2M503 325h2M503 323h2M503 342h2M503 305h2M503 295h2M503 310h2M503 297h2M503 294h2M503 291h2M503 314h2M503 312h2M503 333h2M503 317h2M503 316h2M503 321h2M504 298h2M504 318h2M504 321h2M504 326h2M504 327h2M504 299h2M504 309h2M504 307h2M504 310h2M504 288h2M504 314h2M504 303h2M504 300h2M504 321h2M504 296h2M504 295h2M504 318h2M505 297h2M505 313h2M505 317h2M505 295h2M505 289h2M505 300h2M505 300h2M505 290h2M505 293h2M505 295h2M505 323h2M505 315h2M505 318h2M505 305h2M505 321h2M505 335h2M506 291h2M506 283h2M506 324h2M506 300h2M506 319h2M506 292h2M506 322h2M506 318h2M506 308h2M506 323h2M506 299h2M506 316h2M506 298h2M506 287h2M506 300h2M506 306h2M506 285h2M507 290h2M507 287h2M507 292h2M507 324h2M507 313h2M507 311h2M507 321h2M507 293h2M507 285h2M507 296h2M507 290h2M507 299h2M507 288h2M507 303h2M507 310h2M507 297h2M507 308h2M508 309h2M508 311h2M508 304h2M508 305h2M508 288h2M508 291h2M508 289h2M508 284h2M508 292h2M508 303h2M508 285h2M508 312h2M508 292h2M508 299h2M508 290h2M508 287h2M508 287h2M509 304h2M509 317h2M509 280h2M509 283h2M509 300h2M509 286h2M509 310h2M509 299h2M509 295h2M509 289h2M509 293h2M509 313h2M509 277h2M509 281h2M509 307h2M509 280h2M509 286h2M510 316h2M510 281h2M510 300h2M510 302h2M510 305h2M510 294h2M510 276h2M510 296h2M510 303h2M510 281h2M510 306h2M510 300h2M510 289h2M510 305h2M510 280h2M510 283h2M511 281h2M511 297h2M511 298h2M511 301h2M511 277h2M511 286h2M511 283h2M511 294h2M511 282h2M511 309h2M511 300h2M511 309h2M511 279h2M511 311h2M511 255h2M511 288h2M511 303h2M512 273h2M512 283h2M512 300h2M512 302h2M512 283h2M512 289h2M512 285h2M512 287h2M512 274h2M512 278h2M512 295h2M512 284h2M512 292h2M512 288h2M512 289h2M512 309h2M512 274h2M513 294h2M513 271h2M513 283h2M513 280h2M513 278h2M513 272h2M513 278h2M513 280h2M513 293h2M513 284h2M513 300h2M513 293h2M513 288h2M513 267h2M513 288h2M513 298h2M513 296h2M514 293h2M514 286h2M514 300h2M514 296h2M514 298h2M514 276h2M514 293h2M514 300h2M514 272h2M514 286h2M514 270h2M514 292h2M514 291h2M514 291h2M514 300h2M514 266h2M515 298h2M515 270h2M515 272h2M515 275h2M515 290h2M515 265h2M515 278h2M515 285h2M515 293h2M515 294h2M515 266h2M515 300h2M515 281h2M515 275h2M515 272h2M515 277h2M515 278h2M516 281h2M516 286h2M516 270h2M516 283h2M516 285h2M516 290h2M516 265h2M516 291h2M516 270h2M516 273h2M516 295h2M516 292h2M516 298h2M516 288h2M516 284h2M516 275h2M516 273h2M517 268h2M517 262h2M517 294h2M517 273h2M517 280h2M517 290h2M517 276h2M517 283h2M517 293h2M517 280h2M517 280h2M517 259h2M517 277h2M517 268h2M517 279h2M517 261h2M517 263h2M518 281h2M518 281h2M518 257h2M518 270h2M518 257h2M518 298h2M518 271h2M518 289h2M518 261h2M518 300h2M518 261h2M518 266h2M518 269h2M518 279h2M518 282h2M518 291h2M519 288h2M519 272h2M519 282h2M519 292h2M519 288h2M519 287h2M519 289h2M519 274h2M519 263h2M519 269h2M519 266h2M519 292h2M519 267h2M519 262h2M519 256h2M519 266h2M519 268h2M520 254h2M520 287h2M520 263h2M520 245h2M520 256h2M520 280h2M520 290h2M520 288h2M520 267h2M520 279h2M520 259h2M520 288h2M520 258h2M520 276h2M520 283h2M520 283h2M520 276h2M521 277h2M521 280h2M521 284h2M521 253h2M521 277h2M521 269h2M521 264h2M521 281h2M521 252h2M521 281h2M521 285h2M521 293h2M521 282h2M521 292h2M521 268h2M521 273h2M521 291h2M522 250h2M522 267h2M522 266h2M522 255h2M522 268h2M522 287h2M522 256h2M522 256h2M522 289h2M522 268h2M522 285h2M522 277h2M522 287h2M522 261h2M522 285h2M522 268h2M522 267h2M523 258h2M523 286h2M523 275h2M523 286h2M523 287h2M523 282h2M523 287h2M523 250h2M523 268h2M523 282h2M523 272h2M523 290h2M523 289h2M523 265h2M523 264h2M523 250h2M524 248h2M524 254h2M524 261h2M524 270h2M524 259h2M524 281h2M524 256h2M524 278h2M524 258h2M524 286h2M524 269h2M524 268h2M524 258h2M524 262h2M524 258h2M524 266h2M524 271h2M525 279h2M525 283h2M525 257h2M525 274h2M525 261h2M525 261h2M525 271h2M525 270h2M525 250h2M525 274h2M525 249h2M525 290h2M525 264h2M525 296h2M525 274h2M525 267h2M525 260h2M526 256h2M526 275h2M526 287h2M526 258h2M526 256h2M526 256h2M526 258h2M526 282h2M526 261h2M526 268h2M526 273h2M526 271h2M526 271h2M526 251h2M526 270h2M526 274h2M526 273h2M527 256h2M527 274h2M527 265h2M527 266h2M527 259h2M527 284h2M527 264h2M527 269h2M527 254h2M527 264h2M527 261h2M527 258h2M527 278h2M527 284h2M527 259h2M527 287h2M528 251h2M528 260h2M528 273h2M528 285h2M528 278h2M528 261h2M528 253h2M528 285h2M528 255h2M528 273h2M528 272h2M528 249h2M528 258h2M528 273h2M528 270h2M528 284h2M528 261h2M529 267h2M529 255h2M529 283h2M529 275h2M529 273h2M529 286h2M529 266h2M529 257h2M529 257h2M529 249h2M529 269h2M529 249h2M529 289h2M529 262h2M529 279h2M529 272h2M529 268h2M530 257h2M530 283h2M530 264h2M530 276h2M530 281h2M530 269h2M530 256h2M530 271h2M530 265h2M530 280h2M530 281h2M530 275h2M530 248h2M530 256h2M530 271h2M530 259h2M530 275h2M531 265h2M531 264h2M531 250h2M531 273h2M531 294h2M531 274h2M531 244h2M531 277h2M531 274h2M531 254h2M531 261h2M531 279h2M531 281h2M531 270h2M531 274h2M531 256h2M531 264h2M532 253h2M532 277h2M532 260h2M532 272h2M532 269h2M532 268h2M532 263h2M532 293h2M532 258h2M532 277h2M532 259h2M532 275h2M532 256h2M532 290h2M532 253h2M532 260h2M533 284h2M533 251h2M533 277h2M533 264h2M533 255h2M533 247h2M533 262h2M533 285h2M533 246h2M533 257h2M533 284h2M533 262h2M533 269h2M533 260h2M533 261h2M533 289h2M533 273h2M534 275h2M534 265h2M534 252h2M534 278h2M534 283h2M534 278h2M534 272h2M534 283h2M534 270h2M534 281h2M534 257h2M534 287h2M534 254h2M534 261h2M534 282h2M534 273h2M534 280h2M535 268h2M535 264h2M535 287h2M535 285h2M535 259h2M535 274h2M535 256h2M535 305h2M535 284h2M535 262h2M535 280h2M535 249h2M535 280h2M535 252h2M535 255h2M535 290h2M535 274h2M536 273h2M536 271h2M536 271h2M536 262h2M536 257h2M536 258h2M536 280h2M536 262h2M536 255h2M536 286h2M536 285h2M536 267h2M536 251h2M536 277h2M536 281h2M536 286h2M537 280h2M537 253h2M537 278h2M537 279h2M537 253h2M537 254h2M537 267h2M537 281h2M537 280h2M537 279h2M537 287h2M537 254h2M537 277h2M537 276h2M537 277h2M537 271h2M537 270h2M538 260h2M538 277h2M538 283h2M538 282h2M538 271h2M538 235h2M538 247h2M538 283h2M538 253h2M538 258h2M538 282h2M538 281h2M538 251h2M538 279h2M538 254h2M538 252h2M538 247h2M539 267h2M539 285h2M539 265h2M539 267h2M539 257h2M539 259h2M539 251h2M539 249h2M539 262h2M539 268h2M539 280h2M539 247h2M539 260h2M539 268h2M539 259h2M539 255h2M539 276h2M540 287h2M540 247h2M540 286h2M540 277h2M540 268h2M540 286h2M540 274h2M540 256h2M540 266h2M540 266h2M540 289h2M540 267h2M540 284h2M540 277h2M540 273h2M540 274h2M540 278h2M541 259h2M541 273h2M541 258h2M541 270h2M541 283h2M541 277h2M541 269h2M541 271h2M541 261h2M541 262h2M541 278h2M541 283h2M541 283h2M541 274h2M541 283h2M541 277h2M542 250h2M542 288h2M542 259h2M542 283h2M542 253h2M542 269h2M542 253h2M542 273h2M542 276h2M542 292h2M542 279h2M542 275h2M542 256h2M542 252h2M542 287h2M542 268h2M542 287h2M543 277h2M543 261h2M543 268h2M543 257h2M543 268h2M543 280h2M543 268h2M543 255h2M543 254h2M543 267h2M543 268h2M543 265h2M543 271h2M543 263h2M543 253h2M543 275h2M543 265h2M544 274h2M544 255h2M544 280h2M544 269h2M544 256h2M544 276h2M544 252h2M544 250h2M544 278h2M544 276h2M544 280h2M544 272h2M544 272h2M544 277h2M544 256h2M544 253h2M544 259h2M545 256h2M545 254h2M545 253h2M545 285h2M545 254h2M545 283h2M545 276h2M545 256h2M545 285h2M545 250h2M545 279h2M545 289h2M545 266h2M545 246h2M545 266h2M545 266h2M546 259h2M546 269h2M546 265h2M546 266h2M546 250h2M546 284h2M546 281h2M546 290h2M546 286h2M546 281h2M546 249h2M546 277h2M546 265h2M546 277h2M546 254h2M546 282h2M546 276h2M547 274h2M547 285h2M547 288h2M547 272h2M547 286h2M547 291h2M547 251h2M547 278h2M547 288h2M547 263h2M547 272h2M547 266h2M547 270h2M547 284h2M547 282h2M547 275h2M547 253h2M548 279h2M548 283h2M548 284h2M548 280h2M548 281h2M548 269h2M548 273h2M548 252h2M548 278h2M548 253h2M548 274h2M548 266h2M548 247h2M548 263h2M548 247h2M548 272h2M548 272h2M549 262h2M549 261h2M549 289h2M549 282h2M549 250h2M549 261h2M549 258h2M549 279h2M549 248h2M549 275h2M549 284h2M549 260h2M549 272h2M549 284h2M549 252h2M549 254h2M549 282h2M550 266h2M550 253h2M550 275h2M550 267h2M550 281h2M550 269h2M550 278h2M550 296h2M550 280h2M550 286h2M550 278h2M550 285h2M550 265h2M550 261h2M550 275h2M550 256h2M551 279h2M551 238h2M551 257h2M551 256h2M551 266h2M551 251h2M551 272h2M551 250h2M551 281h2M551 254h2M551 250h2M551 262h2M551 280h2M551 253h2M551 260h2M551 280h2M551 254h2M552 283h2M552 261h2M552 286h2M552 266h2M552 273h2M552 280h2M552 274h2M552 257h2M552 286h2M552 258h2M552 280h2M552 267h2M552 254h2M552 275h2M552 285h2M552 264h2M552 265h2M553 265h2M553 284h2M553 250h2M553 290h2M553 281h2M553 272h2M553 283h2M553 278h2M553 268h2M553 257h2M553 244h2M553 278h2M553 260h2M553 288h2M553 256h2M553 261h2M553 254h2M554 280h2M554 269h2M554 258h2M554 285h2M554 257h2M554 264h2M554 254h2M554 254h2M554 262h2M554 271h2M554 283h2M554 285h2M554 259h2M554 291h2M554 280h2M554 271h2M555 285h2M555 283h2M555 285h2M555 263h2M555 250h2M555 262h2M555 249h2M555 277h2M555 273h2M555 273h2M555 276h2M555 278h2M555 256h2M555 275h2M555 275h2M555 273h2M555 250h2M556 277h2M556 260h2M556 275h2M556 254h2M556 272h2M556 290h2M556 266h2M556 277h2M556 280h2M556 277h2M556 288h2M556 250h2M556 260h2M556 262h2M556 262h2M556 274h2M556 270h2M557 271h2M557 253h2M557 272h2M557 281h2M557 284h2M557 277h2M557 262h2M557 266h2M557 261h2M557 263h2M557 283h2M557 271h2M557 270h2M557 287h2M557 266h2M557 254h2M557 281h2M558 269h2M558 284h2M558 262h2M558 269h2M558 288h2M558 268h2M558 282h2M558 278h2M558 262h2M558 273h2M558 250h2M558 253h2M558 258h2M558 272h2M558 248h2M558 285h2M559 257h2M559 275h2M559 255h2M559 286h2M559 272h2M559 297h2M559 278h2M559 239h2M559 279h2M559 255h2M559 266h2M559 278h2M559 265h2M559 267h2M559 289h2M559 261h2M559 259h2M560 251h2M560 255h2M560 272h2M560 266h2M560 262h2M560 283h2M560 265h2M560 276h2M560 278h2M560 265h2M560 265h2M560 271h2M560 252h2M560 286h2M560 267h2M560 283h2M560 253h2M561 247h2M561 258h2M561 252h2M561 255h2M561 261h2M561 257h2M561 253h2M561 279h2M561 258h2M561 282h2M561 264h2M561 273h2M561 263h2M561 259h2M561 252h2M561 250h2M561 283h2M562 272h2M562 285h2M562 259h2M562 274h2M562 250h2M562 276h2M562 250h2M562 282h2M562 257h2M562 259h2M562 257h2M562 275h2M562 270h2M562 231h2M562 263h2M562 254h2M562 277h2M563 264h2M563 262h2M563 273h2M563 282h2M563 245h2M563 255h2M563 271h2M563 266h2M563 278h2M563 248h2M563 250h2M563 254h2M563 252h2M563 278h2M563 261h2M563 246h2M564 251h2M564 250h2M564 276h2M564 259h2M564 272h2M564 248h2M564 253h2M564 270h2M564 257h2M564 259h2M564 246h2M564 258h2M564 278h2M564 262h2M564 283h2M564 277h2M564 295h2M565 264h2M565 279h2M565 271h2M565 268h2M565 247h2M565 266h2M565 277h2M565 278h2M565 268h2M565 252h2M565 245h2M565 248h2M565 278h2M565 248h2M565 250h2M565 246h2M565 257h2M566 262h2M566 265h2M566 260h2M566 282h2M566 257h2M566 263h2M566 243h2M566 256h2M566 243h2M566 279h2M566 254h2M566 241h2M566 268h2M566 272h2M566 263h2M566 259h2M566 266h2M567 264h2M567 250h2M567 243h2M567 269h2M567 247h2M567 235h2M567 253h2M567 258h2M567 255h2M567 264h2M567 279h2M567 273h2M567 244h2M567 260h2M567 236h2M567 262h2M568 242h2M568 260h2M568 242h2M568 260h2M568 264h2M568 268h2M568 275h2M568 271h2M568 247h2M568 265h2M568 241h2M568 266h2M568 241h2M568 265h2M568 265h2M568 260h2M568 263h2M569 259h2M569 245h2M569 274h2M569 265h2M569 273h2M569 241h2M569 271h2M569 254h2M569 237h2M569 262h2M569 269h2M569 260h2M569 238h2M569 270h2M569 239h2M569 270h2M569 271h2M570 248h2M570 250h2M570 259h2M570 244h2M570 264h2M570 237h2M570 231h2M570 240h2M570 252h2M570 252h2M570 242h2M570 248h2M570 272h2M570 248h2M570 260h2M570 253h2M570 235h2M571 246h2M571 238h2M571 259h2M571 275h2M571 273h2M571 272h2M571 261h2M571 261h2M571 260h2M571 246h2M571 241h2M571 256h2M571 245h2M571 238h2M571 241h2M571 251h2M571 258h2M572 268h2M572 273h2M572 276h2M572 255h2M572 238h2M572 257h2M572 272h2M572 243h2M572 244h2M572 231h2M572 248h2M572 236h2M572 253h2M572 257h2M572 220h2M572 242h2M573 237h2M573 240h2M573 237h2M573 247h2M573 255h2M573 269h2M573 235h2M573 252h2M573 272h2M573 254h2M573 232h2M573 237h2M573 233h2M573 246h2M573 233h2M573 238h2M573 238h2M574 249h2M574 231h2M574 237h2M574 238h2M574 263h2M574 227h2M574 239h2M574 260h2M574 233h2M574 263h2M574 249h2M574 254h2M574 256h2M574 251h2M574 262h2M574 258h2M574 261h2M575 245h2M575 251h2M575 235h2M575 234h2M575 233h2M575 237h2M575 239h2M575 265h2M575 230h2M575 243h2M575 243h2M575 242h2M575 257h2M575 245h2M575 260h2M575 232h2M575 256h2M576 261h2M576 226h2M576 243h2M576 238h2M576 237h2M576 236h2M576 249h2M576 251h2M576 267h2M576 242h2M576 263h2M576 247h2M576 228h2M576 232h2M576 271h2M576 255h2M577 228h2M577 263h2M577 242h2M577 255h2M577 228h2M577 227h2M577 244h2M577 254h2M577 230h2M577 272h2M577 253h2M577 244h2M577 258h2M577 252h2M577 257h2M577 246h2M577 231h2M578 229h2M578 225h2M578 235h2M578 243h2M578 251h2M578 230h2M578 255h2M578 257h2M578 261h2M578 247h2M578 262h2M578 238h2M578 257h2M578 238h2M578 240h2M578 236h2M578 238h2M579 230h2M579 249h2M579 242h2M579 255h2M579 245h2M579 257h2M579 233h2M579 230h2M579 264h2M579 262h2M579 250h2M579 247h2M579 246h2M579 251h2M579 270h2M579 242h2M579 250h2M580 265h2M580 244h2M580 261h2M580 229h2M580 247h2M580 252h2M580 236h2M580 230h2M580 257h2M580 252h2M580 229h2M580 237h2M580 253h2M580 250h2M580 230h2M580 263h2M580 247h2M581 243h2M581 240h2M581 244h2M581 233h2M581 231h2M581 253h2M581 255h2M581 233h2M581 250h2M581 244h2M581 239h2M581 242h2M581 227h2M581 263h2M581 242h2M581 247h2M582 257h2M582 258h2M582 252h2M582 262h2M582 255h2M582 235h2M582 232h2M582 227h2M582 243h2M582 244h2M582 262h2M582 260h2M582 234h2M582 244h2M582 235h2M582 233h2M582 236h2M583 237h2M583 265h2M583 246h2M583 230h2M583 233h2M583 230h2M583 248h2M583 249h2M583 269h2M583 246h2M583 246h2M583 232h2M583 231h2M583 266h2M583 260h2M583 254h2M583 238h2M584 259h2M584 239h2M584 243h2M584 232h2M584 254h2M584 273h2M584 269h2M584 250h2M584 241h2M584 246h2M584 250h2M584 235h2M584 239h2M584 239h2M584 235h2M584 238h2M584 255h2M585 203h2M585 240h2M585 252h2M585 247h2M585 257h2M585 239h2M585 267h2M585 253h2M585 243h2M585 230h2M585 231h2M585 263h2M585 249h2M585 252h2M585 260h2M585 248h2M586 255h2M586 257h2M586 239h2M586 238h2M586 263h2M586 256h2M586 264h2M586 253h2M586 235h2M586 235h2M586 266h2M586 250h2M586 270h2M586 231h2M586 230h2M586 264h2M586 257h2M587 260h2M587 268h2M587 242h2M587 257h2M587 267h2M587 262h2M587 249h2M587 245h2M587 271h2M587 248h2M587 243h2M587 240h2M587 245h2M587 244h2M587 258h2M587 235h2M587 253h2M588 270h2M588 272h2M588 260h2M588 250h2M588 259h2M588 252h2M588 252h2M588 265h2M588 260h2M588 247h2M588 263h2M588 238h2M588 267h2M588 269h2M588 265h2M588 247h2M588 264h2M589 250h2M589 261h2M589 249h2M589 240h2M589 237h2M589 272h2M589 239h2M589 261h2M589 245h2M589 236h2M589 267h2M589 257h2M589 252h2M589 252h2M589 243h2M589 259h2M590 233h2M590 236h2M590 257h2M590 239h2M590 268h2M590 267h2M590 257h2M590 267h2M590 267h2M590 250h2M590 259h2M590 264h2M590 258h2M590 245h2M590 262h2M590 256h2M590 240h2M591 269h2M591 255h2M591 264h2M591 244h2M591 265h2M591 245h2M591 262h2M591 240h2M591 260h2M591 258h2M591 269h2M591 269h2M591 265h2M591 241h2M591 257h2M591 245h2M591 246h2M592 272h2M592 264h2M592 241h2M592 248h2M592 258h2M592 261h2M592 256h2M592 231h2M592 271h2M592 259h2M592 272h2M592 268h2M592 247h2M592 248h2M592 245h2M592 253h2M592 247h2M593 265h2M593 257h2M593 243h2M593 237h2M593 263h2M593 266h2M593 245h2M593 239h2M593 277h2M593 245h2M593 271h2M593 259h2M593 257h2M593 240h2M593 261h2M593 268h2M593 261h2M594 257h2M594 278h2M594 249h2M594 275h2M594 267h2M594 259h2M594 240h2M594 261h2M594 270h2M594 267h2M594 269h2M594 261h2M594 256h2M594 250h2M594 278h2M594 254h2M595 273h2M595 253h2M595 253h2M595 255h2M595 261h2M595 258h2M595 240h2M595 264h2M595 260h2M595 224h2M595 263h2M595 278h2M595 242h2M595 269h2M595 240h2M595 274h2M595 249h2M596 254h2M596 253h2M596 248h2M596 279h2M596 251h2M596 292h2M596 269h2M596 246h2M596 256h2M596 273h2M596 247h2M596 263h2M596 250h2M596 275h2M596 282h2M596 250h2M596 245h2M597 275h2M597 263h2M597 244h2M597 252h2M597 266h2M597 242h2M597 260h2M597 268h2M597 258h2M597 269h2M597 266h2M597 259h2M597 268h2M597 257h2M597 289h2M597 256h2M597 268h2M598 257h2M598 254h2M598 268h2M598 258h2M598 286h2M598 266h2M598 272h2M598 261h2M598 259h2M598 275h2M598 272h2M598 263h2M598 258h2M598 266h2M598 280h2M598 260h2M599 265h2M599 241h2M599 262h2M599 283h2M599 256h2M599 281h2M599 265h2M599 283h2M599 258h2M599 285h2M599 250h2M599 272h2M599 246h2M599 245h2M599 259h2M599 269h2M599 267h2M600 251h2M600 273h2M600 266h2M600 280h2M600 267h2M600 276h2M600 251h2M600 264h2M600 273h2M600 272h2M600 279h2M600 279h2M600 283h2M600 253h2M600 282h2M600 253h2M600 247h2M601 251h2M601 280h2M601 254h2M601 267h2M601 243h2M601 272h2M601 305h2M601 263h2M601 277h2M601 272h2M601 256h2M601 257h2M601 252h2M601 289h2M601 256h2M601 275h2M601 257h2M602 280h2M602 269h2M602 267h2M602 258h2M602 264h2M602 250h2M602 269h2M602 276h2M602 258h2M602 278h2" stroke="#5e81b5" stroke-width="2" shape-rendering="crispEdges" fill="none"/>
<g fill="#00ff00"><circle cx="46.2" cy="206.3" r="2.6"/><circle cx="47.4" cy="212.4" r="2.6"/><circle cx="111.9" cy="205.6" r="2.6"/><circle cx="104.1" cy="256.6" r="2.6"/><circle cx="137.3" cy="261.9" r="2.6"/><circle cx="314.3" cy="229" r="2.6"/><circle cx="402.5" cy="277" r="2.6"/><circle cx="524.3" cy="259.2" r="2.6"/><circle cx="578.4" cy="223.1" r="2.6"/></g>
<g fill="#ff0000"><circle cx="81.2" cy="301.1" r="2.6"/><circle cx="80.4" cy="316.9" r="2.6"/><circle cx="129.5" cy="302.2" r="2.6"/><circle cx="207.7" cy="380.3" r="2.6"/><circle cx="397.6" cy="335.5" r="2.6"/><circle cx="514.9" cy="320.9" r="2.6"/><circle cx="545.2" cy="307.2" r="2.6"/><circle cx="446" cy="382" r="2.6"/></g>
<path d="M36.5 351.0 L37.0 343.7 L37.5 336.7 L38.0 330.0 L38.5 323.7 L39.0 317.7 L39.5 311.6 L40.0 305.0 L40.5 298.2 L41.0 291.0 L41.5 283.2 L42.0 275.1 L42.5 267.3 L43.0 259.7 L43.5 253.4 L44.0 248.1 L44.5 243.0 L45.0 237.8 L45.5 232.7 L46.0 227.8 L46.5 223.4 L47.0 219.2 L47.5 215.4 L48.0 212.0 L48.5 209.0 L49.0 206.3 L49.5 203.9 L50.0 202.0 L50.5 200.4 L51.0 199.0 L51.5 197.8 L52.0 197.0 L52.5 196.4 L53.0 195.9 L53.5 195.5 L54.0 195.2 L54.5 195.2 L55.0 195.6 L55.5 196.2 L56.0 197.0 L56.5 198.0 L57.0 199.0 L57.5 200.2 L58.0 201.8 L58.5 203.7 L59.0 205.8 L59.5 207.9 L60.0 210.0 L60.5 212.1 L61.0 214.3 L61.5 216.7 L62.0 219.1 L62.5 221.5 L63.0 224.0 L63.5 226.6 L64.0 229.3 L64.5 232.1 L65.0 234.9 L65.5 237.5 L66.0 240.0 L66.5 242.2 L67.0 244.3 L67.5 246.3 L68.0 248.3 L68.5 250.3 L69.0 252.3 L69.5 254.5 L70.0 256.9 L70.5 259.5 L71.0 262.2 L71.5 264.7 L72.0 267.0 L72.5 269.1 L73.0 271.2 L73.5 273.1 L74.0 274.8 L74.5 276.3 L75.0 277.4 L75.5 278.5 L76.0 279.4 L76.5 280.3 L77.0 281.1 L77.5 281.8 L78.0 282.4 L78.5 283.0 L79.0 283.6 L79.5 284.2 L80.0 284.8 L80.5 285.3 L81.0 285.9 L81.5 286.4 L82.0 286.9 L82.5 287.4 L83.0 287.8 L83.5 288.2 L84.0 288.5 L84.5 288.7 L85.0 288.9 L85.5 289.1 L86.0 289.2 L86.5 289.3 L87.0 289.3 L87.5 289.3 L88.0 289.2 L88.5 289.1 L89.0 289.0 L89.5 288.8 L90.0 288.6 L90.5 288.4 L91.0 288.1 L91.5 287.8 L92.0 287.5 L92.5 287.2 L93.0 286.9 L93.5 286.5 L94.0 286.2 L94.5 285.8 L95.0 285.4 L95.5 285.0 L96.0 284.7 L96.5 284.3 L97.0 283.9 L97.5 283.5 L98.0 283.1 L98.5 282.7 L99.0 282.4 L99.5 282.0 L100.0 281.7 L100.5 281.4 L101.0 281.0 L101.5 280.7 L102.0 280.5 L102.5 280.2 L103.0 280.0 L103.5 279.8 L104.0 279.6 L104.5 279.5 L105.0 279.4 L105.5 279.3 L106.0 279.2 L106.5 279.2 L107.0 279.2 L107.5 279.2 L108.0 279.3 L108.5 279.3 L109.0 279.4 L109.5 279.5 L110.0 279.6 L110.5 279.7 L111.0 279.9 L111.5 280.0 L112.0 280.2 L112.5 280.4 L113.0 280.6 L113.5 280.7 L114.0 280.9 L114.5 281.2 L115.0 281.4 L115.5 281.6 L116.0 281.8 L116.5 282.0 L117.0 282.3 L117.5 282.5 L118.0 282.7 L118.5 282.9 L119.0 283.2 L119.5 283.4 L120.0 283.6 L120.5 283.8 L121.0 284.0 L121.5 284.3 L122.0 284.5 L122.5 284.6 L123.0 284.8 L123.5 285.0 L124.0 285.2 L124.5 285.3 L125.0 285.5 L125.5 285.6 L126.0 285.7 L126.5 285.8 L127.0 285.9 L127.5 285.9 L128.0 286.0 L128.5 286.0 L129.0 286.0 L129.5 286.0 L130.0 286.0 L130.5 285.9 L131.0 285.8 L131.5 285.7 L132.0 285.6 L132.5 285.5 L133.0 285.3 L133.5 285.1 L134.0 284.9 L134.5 284.7 L135.0 284.4 L135.5 284.2 L136.0 283.9 L136.5 283.6 L137.0 283.3 L137.5 283.0 L138.0 282.6 L138.5 282.3 L139.0 281.9 L139.5 281.6 L140.0 281.2 L140.5 280.8 L141.0 280.5 L141.5 280.1 L142.0 279.7 L142.5 279.3 L143.0 278.9 L143.5 278.5 L144.0 278.1 L144.5 277.8 L145.0 277.4 L145.5 277.0 L146.0 276.6 L146.5 276.2 L147.0 275.9 L147.5 275.5 L148.0 275.2 L148.5 274.8 L149.0 274.5 L149.5 274.2 L150.0 273.9 L150.5 273.6 L151.0 273.3 L151.5 273.1 L152.0 272.8 L152.5 272.6 L153.0 272.4 L153.5 272.2 L154.0 272.1 L154.5 272.0 L155.0 271.8 L155.5 271.8 L156.0 271.7 L156.5 271.7 L157.0 271.7 L157.5 271.8 L158.0 271.9 L158.5 272.0 L159.0 272.2 L159.5 272.4 L160.0 272.6 L160.5 272.9 L161.0 273.3 L161.5 273.6 L162.0 274.0 L162.5 274.5 L163.0 274.9 L163.5 275.4 L164.0 275.9 L164.5 276.4 L165.0 276.9 L165.5 277.4 L166.0 277.9 L166.5 278.5 L167.0 279.1 L167.5 279.6 L168.0 280.3 L168.5 280.9 L169.0 281.5 L169.5 282.2 L170.0 282.9 L170.5 283.7 L171.0 284.4 L171.5 285.3 L172.0 286.1 L172.5 287.0 L173.0 288.0 L173.5 289.0 L174.0 290.0 L174.5 291.1 L175.0 292.2 L175.5 293.4 L176.0 294.6 L176.5 295.8 L177.0 297.0 L177.5 298.2 L178.0 299.4 L178.5 300.5 L179.0 301.6 L179.5 302.7 L180.0 303.8 L180.5 304.8 L181.0 305.8 L181.5 306.8 L182.0 307.8 L182.5 308.8 L183.0 309.8 L183.5 310.9 L184.0 312.0 L184.5 313.1 L185.0 314.3 L185.5 315.5 L186.0 316.8 L186.5 318.1 L187.0 319.4 L187.5 320.7 L188.0 322.0 L188.5 323.3 L189.0 324.6 L189.5 325.9 L190.0 327.2 L190.5 328.5 L191.0 329.7 L191.5 330.9 L192.0 332.1 L192.5 333.2 L193.0 334.3 L193.5 335.4 L194.0 336.5 L194.5 337.5 L195.0 338.5 L195.5 339.5 L196.0 340.4 L196.5 341.4 L197.0 342.3 L197.5 343.2 L198.0 344.1 L198.5 345.0 L199.0 345.9 L199.5 346.8 L200.0 347.6 L200.5 348.5 L201.0 349.3 L201.5 350.1 L202.0 350.8 L202.5 351.6 L203.0 352.4 L203.5 353.1 L204.0 353.8 L204.5 354.5 L205.0 355.2 L205.5 355.8 L206.0 356.5 L206.5 357.1 L207.0 357.8 L207.5 358.4 L208.0 359.0 L208.5 359.6 L209.0 360.2 L209.5 360.8 L210.0 361.4 L210.5 362.0 L211.0 362.5 L211.5 363.1 L212.0 363.6 L212.5 364.1 L213.0 364.6 L213.5 365.1 L214.0 365.6 L214.5 366.0 L215.0 366.5 L215.5 366.9 L216.0 367.2 L216.5 367.6 L217.0 367.9 L217.5 368.3 L218.0 368.5 L218.5 368.8 L219.0 369.1 L219.5 369.4 L220.0 369.6 L220.5 369.8 L221.0 370.1 L221.5 370.3 L222.0 370.5 L222.5 370.7 L223.0 370.9 L223.5 371.1 L224.0 371.3 L224.5 371.5 L225.0 371.7 L225.5 371.8 L226.0 372.0 L226.5 372.2 L227.0 372.3 L227.5 372.4 L228.0 372.6 L228.5 372.7 L229.0 372.8 L229.5 372.8 L230.0 372.9 L230.5 373.0 L231.0 373.0 L231.5 373.0 L232.0 373.1 L232.5 373.1 L233.0 373.0 L233.5 373.0 L234.0 372.9 L234.5 372.9 L235.0 372.8 L235.5 372.7 L236.0 372.5 L236.5 372.4 L237.0 372.2 L237.5 372.0 L238.0 371.9 L238.5 371.6 L239.0 371.4 L239.5 371.2 L240.0 371.0 L240.5 370.7 L241.0 370.4 L241.5 370.2 L242.0 369.9 L242.5 369.6 L243.0 369.2 L243.5 368.9 L244.0 368.5 L244.5 368.1 L245.0 367.6 L245.5 367.1 L246.0 366.6 L246.5 366.0 L247.0 365.4 L247.5 364.8 L248.0 364.1 L248.5 363.3 L249.0 362.6 L249.5 361.8 L250.0 361.0 L250.5 360.1 L251.0 359.2 L251.5 358.3 L252.0 357.4 L252.5 356.4 L253.0 355.5 L253.5 354.4 L254.0 353.4 L254.5 352.3 L255.0 351.2 L255.5 350.0 L256.0 348.8 L256.5 347.6 L257.0 346.3 L257.5 345.0 L258.0 343.6 L258.5 342.2 L259.0 340.8 L259.5 339.4 L260.0 337.9 L260.5 336.5 L261.0 335.0 L261.5 333.5 L262.0 332.0 L262.5 330.5 L263.0 329.0 L263.5 327.4 L264.0 325.8 L264.5 324.3 L265.0 322.7 L265.5 321.1 L266.0 319.5 L266.5 317.9 L267.0 316.3 L267.5 314.7 L268.0 313.1 L268.5 311.5 L269.0 309.9 L269.5 308.3 L270.0 306.7 L270.5 305.1 L271.0 303.5 L271.5 301.9 L272.0 300.3 L272.5 298.7 L273.0 297.1 L273.5 295.5 L274.0 293.9 L274.5 292.4 L275.0 290.8 L275.5 289.3 L276.0 287.7 L276.5 286.2 L277.0 284.6 L277.5 283.1 L278.0 281.6 L278.5 280.1 L279.0 278.6 L279.5 277.0 L280.0 275.5 L280.5 274.0 L281.0 272.5 L281.5 271.0 L282.0 269.5 L282.5 268.0 L283.0 266.6 L283.5 265.2 L284.0 263.8 L284.5 262.5 L285.0 261.2 L285.5 260.0 L286.0 258.9 L286.5 257.8 L287.0 256.8 L287.5 255.8 L288.0 254.9 L288.5 254.0 L289.0 253.2 L289.5 252.4 L290.0 251.6 L290.5 250.9 L291.0 250.3 L291.5 249.6 L292.0 249.1 L292.5 248.5 L293.0 248.0 L293.5 247.5 L294.0 247.1 L294.5 246.7 L295.0 246.3 L295.5 246.0 L296.0 245.7 L296.5 245.4 L297.0 245.2 L297.5 245.0 L298.0 244.8 L298.5 244.6 L299.0 244.4 L299.5 244.2 L300.0 244.0 L300.5 243.8 L301.0 243.7 L301.5 243.5 L302.0 243.4 L302.5 243.3 L303.0 243.1 L303.5 243.0 L304.0 242.9 L304.5 242.8 L305.0 242.8 L305.5 242.7 L306.0 242.6 L306.5 242.6 L307.0 242.5 L307.5 242.5 L308.0 242.5 L308.5 242.5 L309.0 242.5 L309.5 242.5 L310.0 242.5 L310.5 242.6 L311.0 242.6 L311.5 242.7 L312.0 242.7 L312.5 242.8 L313.0 242.9 L313.5 243.0 L314.0 243.1 L314.5 243.2 L315.0 243.3 L315.5 243.4 L316.0 243.5 L316.5 243.6 L317.0 243.8 L317.5 243.9 L318.0 244.0 L318.5 244.2 L319.0 244.3 L319.5 244.5 L320.0 244.6 L320.5 244.8 L321.0 244.9 L321.5 245.1 L322.0 245.2 L322.5 245.4 L323.0 245.6 L323.5 245.7 L324.0 245.9 L324.5 246.1 L325.0 246.3 L325.5 246.5 L326.0 246.7 L326.5 247.0 L327.0 247.2 L327.5 247.4 L328.0 247.7 L328.5 247.9 L329.0 248.2 L329.5 248.5 L330.0 248.8 L330.5 249.1 L331.0 249.4 L331.5 249.8 L332.0 250.1 L332.5 250.5 L333.0 250.8 L333.5 251.2 L334.0 251.6 L334.5 252.0 L335.0 252.4 L335.5 252.9 L336.0 253.3 L336.5 253.8 L337.0 254.4 L337.5 254.9 L338.0 255.5 L338.5 256.1 L339.0 256.8 L339.5 257.4 L340.0 258.2 L340.5 258.9 L341.0 259.7 L341.5 260.4 L342.0 261.2 L342.5 262.1 L343.0 262.9 L343.5 263.8 L344.0 264.6 L344.5 265.5 L345.0 266.4 L345.5 267.2 L346.0 268.1 L346.5 269.0 L347.0 269.9 L347.5 270.8 L348.0 271.7 L348.5 272.7 L349.0 273.6 L349.5 274.6 L350.0 275.5 L350.5 276.5 L351.0 277.5 L351.5 278.5 L352.0 279.5 L352.5 280.5 L353.0 281.6 L353.5 282.6 L354.0 283.6 L354.5 284.7 L355.0 285.8 L355.5 286.8 L356.0 287.9 L356.5 289.0 L357.0 290.1 L357.5 291.2 L358.0 292.3 L358.5 293.5 L359.0 294.6 L359.5 295.7 L360.0 296.9 L360.5 298.0 L361.0 299.2 L361.5 300.3 L362.0 301.5 L362.5 302.6 L363.0 303.7 L363.5 304.9 L364.0 306.0 L364.5 307.1 L365.0 308.2 L365.5 309.3 L366.0 310.4 L366.5 311.5 L367.0 312.5 L367.5 313.6 L368.0 314.6 L368.5 315.5 L369.0 316.5 L369.5 317.3 L370.0 318.1 L370.5 318.8 L371.0 319.5 L371.5 320.1 L372.0 320.6 L372.5 321.1 L373.0 321.5 L373.5 321.9 L374.0 322.3 L374.5 322.6 L375.0 322.9 L375.5 323.1 L376.0 323.3 L376.5 323.5 L377.0 323.6 L377.5 323.7 L378.0 323.7 L378.5 323.7 L379.0 323.6 L379.5 323.5 L380.0 323.3 L380.5 323.2 L381.0 322.9 L381.5 322.6 L382.0 322.3 L382.5 322.0 L383.0 321.6 L383.5 321.2 L384.0 320.8 L384.5 320.4 L385.0 319.9 L385.5 319.4 L386.0 318.8 L386.5 318.3 L387.0 317.6 L387.5 317.0 L388.0 316.3 L388.5 315.5 L389.0 314.7 L389.5 313.9 L390.0 313.0 L390.5 312.2 L391.0 311.3 L391.5 310.3 L392.0 309.4 L392.5 308.4 L393.0 307.4 L393.5 306.4 L394.0 305.4 L394.5 304.3 L395.0 303.3 L395.5 302.2 L396.0 301.2 L396.5 300.1 L397.0 299.1 L397.5 298.2 L398.0 297.3 L398.5 296.4 L399.0 295.6 L399.5 294.8 L400.0 294.1 L400.5 293.4 L401.0 292.7 L401.5 292.1 L402.0 291.5 L402.5 290.9 L403.0 290.4 L403.5 289.8 L404.0 289.3 L404.5 288.9 L405.0 288.4 L405.5 288.0 L406.0 287.6 L406.5 287.3 L407.0 287.0 L407.5 286.7 L408.0 286.5 L408.5 286.3 L409.0 286.2 L409.5 286.1 L410.0 286.1 L410.5 286.2 L411.0 286.2 L411.5 286.4 L412.0 286.5 L412.5 286.7 L413.0 287.0 L413.5 287.3 L414.0 287.6 L414.5 287.9 L415.0 288.3 L415.5 288.7 L416.0 289.2 L416.5 289.7 L417.0 290.2 L417.5 290.7 L418.0 291.4 L418.5 292.0 L419.0 292.8 L419.5 293.5 L420.0 294.4 L420.5 295.2 L421.0 296.2 L421.5 297.1 L422.0 298.1 L422.5 299.1 L423.0 300.0 L423.5 301.0 L424.0 302.1 L424.5 303.1 L425.0 304.1 L425.5 305.1 L426.0 306.2 L426.5 307.3 L427.0 308.4 L427.5 309.6 L428.0 310.8 L428.5 312.0 L429.0 313.3 L429.5 314.6 L430.0 316.0 L430.5 317.4 L431.0 318.7 L431.5 320.1 L432.0 321.5 L432.5 322.9 L433.0 324.2 L433.5 325.5 L434.0 326.8 L434.5 328.1 L435.0 329.3 L435.5 330.6 L436.0 331.7 L436.5 332.9 L437.0 334.1 L437.5 335.2 L438.0 336.3 L438.5 337.4 L439.0 338.4 L439.5 339.4 L440.0 340.5 L440.5 341.4 L441.0 342.4 L441.5 343.4 L442.0 344.3 L442.5 345.2 L443.0 346.1 L443.5 346.9 L444.0 347.8 L444.5 348.6 L445.0 349.4 L445.5 350.2 L446.0 351.0 L446.5 351.8 L447.0 352.6 L447.5 353.3 L448.0 354.0 L448.5 354.7 L449.0 355.4 L449.5 356.1 L450.0 356.7 L450.5 357.3 L451.0 358.0 L451.5 358.6 L452.0 359.1 L452.5 359.7 L453.0 360.3 L453.5 360.8 L454.0 361.3 L454.5 361.8 L455.0 362.3 L455.5 362.8 L456.0 363.3 L456.5 363.8 L457.0 364.2 L457.5 364.7 L458.0 365.1 L458.5 365.5 L459.0 365.9 L459.5 366.2 L460.0 366.6 L460.5 366.9 L461.0 367.2 L461.5 367.5 L462.0 367.7 L462.5 368.0 L463.0 368.2 L463.5 368.5 L464.0 368.7 L464.5 368.9 L465.0 369.1 L465.5 369.2 L466.0 369.4 L466.5 369.6 L467.0 369.7 L467.5 369.8 L468.0 369.9 L468.5 370.0 L469.0 370.0 L469.5 370.1 L470.0 370.1 L470.5 370.0 L471.0 370.0 L471.5 369.9 L472.0 369.8 L472.5 369.7 L473.0 369.5 L473.5 369.3 L474.0 369.1 L474.5 368.9 L475.0 368.6 L475.5 368.3 L476.0 368.0 L476.5 367.7 L477.0 367.3 L477.5 366.9 L478.0 366.4 L478.5 366.0 L479.0 365.4 L479.5 364.8 L480.0 364.1 L480.5 363.4 L481.0 362.6 L481.5 361.8 L482.0 360.8 L482.5 359.9 L483.0 358.8 L483.5 357.7 L484.0 356.5 L484.5 355.3 L485.0 354.0 L485.5 352.7 L486.0 351.2 L486.5 349.7 L487.0 348.2 L487.5 346.5 L488.0 344.8 L488.5 343.0 L489.0 341.2 L489.5 339.3 L490.0 337.3 L490.5 335.3 L491.0 333.3 L491.5 331.1 L492.0 328.9 L492.5 326.7 L493.0 324.5 L493.5 322.2 L494.0 319.8 L494.5 317.5 L495.0 315.1 L495.5 312.8 L496.0 310.5 L496.5 308.2 L497.0 306.1 L497.5 303.9 L498.0 301.9 L498.5 299.9 L499.0 298.1 L499.5 296.4 L500.0 294.7 L500.5 293.2 L501.0 291.7 L501.5 290.3 L502.0 289.0 L502.5 287.7 L503.0 286.5 L503.5 285.3 L504.0 284.1 L504.5 283.0 L505.0 282.0 L505.5 281.0 L506.0 280.0 L506.5 279.1 L507.0 278.3 L507.5 277.6 L508.0 277.0 L508.5 276.4 L509.0 275.9 L509.5 275.5 L510.0 275.1 L510.5 274.7 L511.0 274.4 L511.5 274.2 L512.0 274.0 L512.5 273.8 L513.0 273.7 L513.5 273.6 L514.0 273.6 L514.5 273.7 L515.0 273.8 L515.5 273.9 L516.0 274.2 L516.5 274.5 L517.0 274.8 L517.5 275.2 L518.0 275.7 L518.5 276.2 L519.0 276.7 L519.5 277.3 L520.0 278.0 L520.5 278.6 L521.0 279.3 L521.5 280.0 L522.0 280.8 L522.5 281.6 L523.0 282.5 L523.5 283.4 L524.0 284.4 L524.5 285.4 L525.0 286.5 L525.5 287.6 L526.0 288.7 L526.5 289.8 L527.0 291.0 L527.5 292.1 L528.0 293.2 L528.5 294.2 L529.0 295.3 L529.5 296.5 L530.0 297.7 L530.5 298.9 L531.0 300.1 L531.5 301.2 L532.0 302.3 L532.5 303.3 L533.0 304.1 L533.5 304.7 L534.0 305.2 L534.5 305.8 L535.0 306.3 L535.5 306.8 L536.0 307.2 L536.5 307.6 L537.0 308.0 L537.5 308.3 L538.0 308.6 L538.5 308.8 L539.0 308.9 L539.5 309.0 L540.0 308.9 L540.5 308.7 L541.0 308.3 L541.5 307.8 L542.0 307.1 L542.5 306.3 L543.0 305.4 L543.5 304.5 L544.0 303.5 L544.5 302.5 L545.0 301.5 L545.5 300.4 L546.0 299.2 L546.5 297.7 L547.0 296.0 L547.5 294.2 L548.0 292.4 L548.5 290.5 L549.0 288.6 L549.5 286.7 L550.0 284.6 L550.5 282.4 L551.0 280.1 L551.3 278.7 L555.6 249.4 L558.3 232.8 L560.6 223.3 L562.8 220.0 L563.7 218.9 L565.0 223.9 L567.2 236.1 L570.0 250.6 L572.9 282.3 L575.8 300.5 L578.6 312.2 L581.3 298.8 L584.0 282.3 L586.7 250.6 L588.3 235.0 L590.0 223.3 L591.7 218.9 L593.3 215.6 L593.9 227.2 L595.0 238.3 L596.1 249.4 L597.4 280.0 L598.8 308.2 L601.1 361.5 L602.8 308.2 L603.5 280.0 L603.9 56.5" stroke="#ff8208" stroke-width="2.2" stroke-linejoin="round" stroke-linecap="butt" fill="none"/>
<path d="M24.0 309.3H615.8" stroke="#757575" stroke-width="1.3" fill="none"/>
<rect x="24.0" y="38.5" width="591.8" height="365.5" fill="none" stroke="#666" stroke-width="1"/>
<path d="M36.80 404.0v-4.6M36.80 38.5v4.6M55.68 404.0v-3.1M55.68 38.5v3.1M74.55 404.0v-3.1M74.55 38.5v3.1M93.43 404.0v-3.1M93.43 38.5v3.1M112.30 404.0v-3.1M112.30 38.5v3.1M131.18 404.0v-4.6M131.18 38.5v4.6M150.06 404.0v-3.1M150.06 38.5v3.1M168.93 404.0v-3.1M168.93 38.5v3.1M187.81 404.0v-3.1M187.81 38.5v3.1M206.68 404.0v-3.1M206.68 38.5v3.1M225.56 404.0v-4.6M225.56 38.5v4.6M244.44 404.0v-3.1M244.44 38.5v3.1M263.31 404.0v-3.1M263.31 38.5v3.1M282.19 404.0v-3.1M282.19 38.5v3.1M301.06 404.0v-3.1M301.06 38.5v3.1M319.94 404.0v-4.6M319.94 38.5v4.6M338.82 404.0v-3.1M338.82 38.5v3.1M357.69 404.0v-3.1M357.69 38.5v3.1M376.57 404.0v-3.1M376.57 38.5v3.1M395.44 404.0v-3.1M395.44 38.5v3.1M414.32 404.0v-4.6M414.32 38.5v4.6M433.20 404.0v-3.1M433.20 38.5v3.1M452.07 404.0v-3.1M452.07 38.5v3.1M470.95 404.0v-3.1M470.95 38.5v3.1M489.82 404.0v-3.1M489.82 38.5v3.1M508.70 404.0v-4.6M508.70 38.5v4.6M527.58 404.0v-3.1M527.58 38.5v3.1M546.45 404.0v-3.1M546.45 38.5v3.1M565.33 404.0v-3.1M565.33 38.5v3.1M584.20 404.0v-3.1M584.20 38.5v3.1M603.08 404.0v-4.6M603.08 38.5v4.6M24.0 398.44h3.1M615.8 398.44h-3.1M24.0 387.26h3.1M615.8 387.26h-3.1M24.0 376.08h3.1M615.8 376.08h-3.1M24.0 364.90h4.6M615.8 364.90h-4.6M24.0 353.72h3.1M615.8 353.72h-3.1M24.0 342.54h3.1M615.8 342.54h-3.1M24.0 331.36h3.1M615.8 331.36h-3.1M24.0 320.18h3.1M615.8 320.18h-3.1M24.0 309.00h4.6M615.8 309.00h-4.6M24.0 297.82h3.1M615.8 297.82h-3.1M24.0 286.64h3.1M615.8 286.64h-3.1M24.0 275.46h3.1M615.8 275.46h-3.1M24.0 264.28h3.1M615.8 264.28h-3.1M24.0 253.10h4.6M615.8 253.10h-4.6M24.0 241.92h3.1M615.8 241.92h-3.1M24.0 230.74h3.1M615.8 230.74h-3.1M24.0 219.56h3.1M615.8 219.56h-3.1M24.0 208.38h3.1M615.8 208.38h-3.1M24.0 197.20h4.6M615.8 197.20h-4.6M24.0 186.02h3.1M615.8 186.02h-3.1M24.0 174.84h3.1M615.8 174.84h-3.1M24.0 163.66h3.1M615.8 163.66h-3.1M24.0 152.48h3.1M615.8 152.48h-3.1M24.0 141.30h4.6M615.8 141.30h-4.6M24.0 130.12h3.1M615.8 130.12h-3.1M24.0 118.94h3.1M615.8 118.94h-3.1M24.0 107.76h3.1M615.8 107.76h-3.1M24.0 96.58h3.1M615.8 96.58h-3.1M24.0 85.40h4.6M615.8 85.40h-4.6M24.0 74.22h3.1M615.8 74.22h-3.1M24.0 63.04h3.1M615.8 63.04h-3.1M24.0 51.86h3.1M615.8 51.86h-3.1M24.0 40.68h3.1M615.8 40.68h-3.1" stroke="#555" stroke-width="1" fill="none"/>
<text x="36.8" y="418.3" text-anchor="middle">0</text><text x="131.2" y="418.3" text-anchor="middle">10</text><text x="225.6" y="418.3" text-anchor="middle">20</text><text x="319.9" y="418.3" text-anchor="middle">30</text><text x="414.3" y="418.3" text-anchor="middle">40</text><text x="508.7" y="418.3" text-anchor="middle">50</text><text x="603.1" y="418.3" text-anchor="middle">60</text><text x="20.5" y="368.6" text-anchor="end">−5</text><text x="20.5" y="312.7" text-anchor="end">0</text><text x="20.5" y="256.8" text-anchor="end">5</text><text x="20.5" y="200.9" text-anchor="end">10</text><text x="20.5" y="145.0" text-anchor="end">15</text><text x="20.5" y="89.1" text-anchor="end">20</text>
</svg>
</body></html>
